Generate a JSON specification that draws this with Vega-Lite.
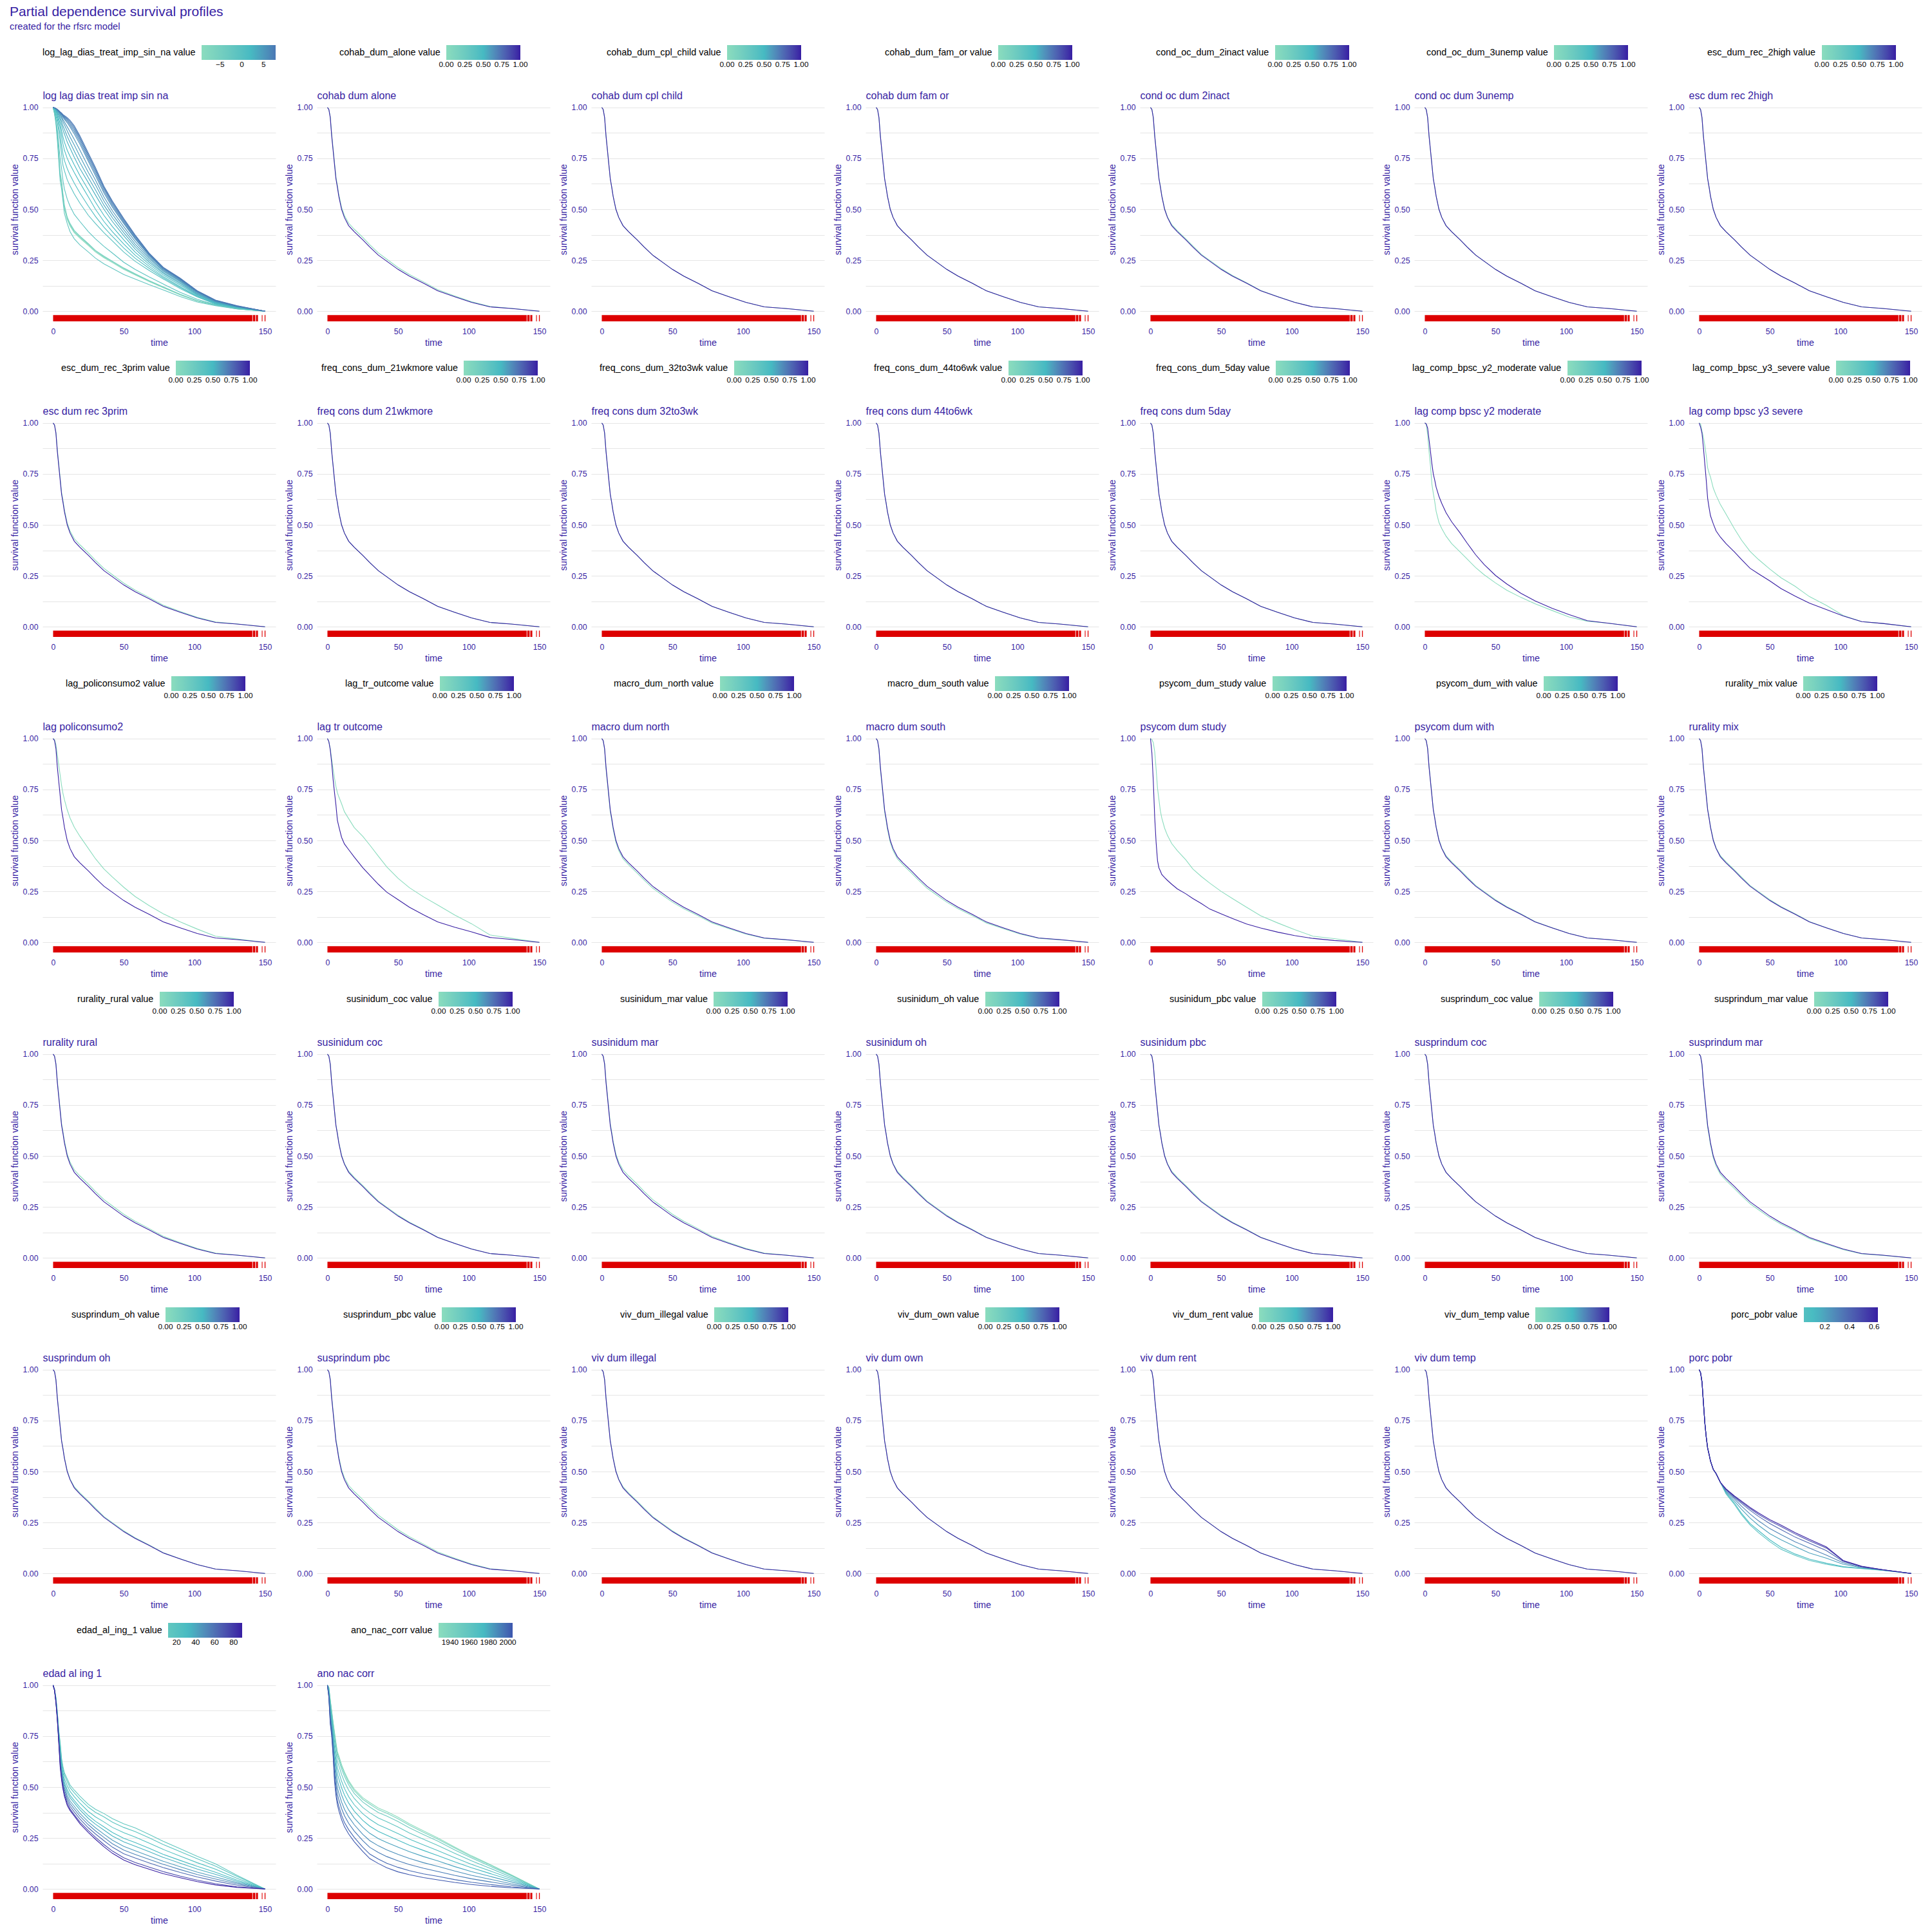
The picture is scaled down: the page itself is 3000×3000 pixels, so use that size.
{
"$schema":"https://vega.github.io/schema/vega-lite/v6.json",
"padding":{"left":15,"top":8,"right":5,"bottom":5},
"title":{"text":"Partial dependence survival profiles","subtitle":"created for the rfsrc model","anchor":"start","frame":"bounds","fontSize":21,"subtitleFontSize":14.7,"color":"#371ea3","subtitleColor":"#371ea3","fontWeight":"normal","font":"Liberation Sans","subtitleFont":"Liberation Sans","offset":21,"subtitlePadding":5},
"datasets":{
"rug":[{"a":0,"b":141},{"a":141.4,"b":143.1},{"a":143.6,"b":145},{"a":147.7,"b":148.2},{"a":149.7,"b":150.3}],
"c":[
{"p":"log_lag_dias_treat_imp_sin_na","v":-9.3,"t":[0,1,2,3,4,5,6,7,8,10,12,15,19,25,30,36,42,50,58,68,78,90,102,115,130,150],"s":[1,0.97,0.93,0.86,0.76,0.66,0.625,0.56,0.505,0.45,0.418,0.385,0.358,0.322,0.29,0.262,0.238,0.205,0.178,0.145,0.115,0.08,0.05,0.03,0.012,0]},
{"p":"log_lag_dias_treat_imp_sin_na","v":-7,"t":[0,1,2,3,4,5,6,7,8,10,12,15,19,25,30,36,42,50,58,68,78,90,102,115,130,150],"s":[1,0.972,0.935,0.865,0.765,0.668,0.632,0.566,0.512,0.456,0.424,0.39,0.363,0.327,0.295,0.266,0.242,0.209,0.181,0.148,0.117,0.082,0.051,0.03,0.012,0]},
{"p":"log_lag_dias_treat_imp_sin_na","v":-5,"t":[0,1,2,3,4,5,6,7,8,10,12,15,19,25,30,36,42,50,58,68,78,90,102,115,130,150],"s":[1,0.975,0.94,0.87,0.775,0.68,0.64,0.575,0.52,0.462,0.43,0.396,0.368,0.331,0.298,0.27,0.245,0.212,0.184,0.15,0.119,0.083,0.052,0.031,0.012,0]},
{"p":"log_lag_dias_treat_imp_sin_na","v":-2,"t":[0,1,2,3,4,5,6,7,8,10,12,15,19,25,30,36,42,50,58,68,78,90,102,115,130,150],"s":[1,0.97,0.92,0.84,0.74,0.64,0.6,0.54,0.48,0.43,0.39,0.355,0.325,0.29,0.26,0.232,0.21,0.18,0.158,0.13,0.104,0.072,0.045,0.027,0.011,0]},
{"p":"log_lag_dias_treat_imp_sin_na","v":-1,"t":[0,1,2,3,4,5,6,7,8,10,12,15,19,25,30,36,42,50,58,68,78,90,102,115,130,150],"s":[1,0.98,0.94,0.89,0.82,0.75,0.7,0.64,0.6,0.55,0.515,0.475,0.44,0.39,0.355,0.318,0.285,0.24,0.205,0.168,0.133,0.092,0.058,0.032,0.014,0]},
{"p":"log_lag_dias_treat_imp_sin_na","v":0,"t":[0,1,2,3,4,5,6,7,8,10,12,15,19,25,30,36,42,50,58,68,78,90,102,115,130,150],"s":[1,0.99,0.96,0.93,0.88,0.83,0.77,0.715,0.69,0.645,0.615,0.575,0.53,0.47,0.43,0.385,0.345,0.29,0.245,0.2,0.158,0.11,0.07,0.035,0.016,0]},
{"p":"log_lag_dias_treat_imp_sin_na","v":0.8,"t":[0,1,2,3,4,5,6,7,8,10,12,15,19,25,30,36,42,50,58,68,78,90,102,115,130,150],"s":[1,0.993,0.97,0.945,0.905,0.865,0.815,0.77,0.74,0.7,0.668,0.628,0.58,0.515,0.465,0.412,0.367,0.31,0.26,0.21,0.164,0.115,0.072,0.036,0.017,0]},
{"p":"log_lag_dias_treat_imp_sin_na","v":1.5,"t":[0,1,2,3,4,5,6,7,8,10,12,15,19,25,30,36,42,50,58,68,78,90,102,115,130,150],"s":[1,0.995,0.98,0.96,0.93,0.9,0.86,0.82,0.79,0.75,0.72,0.68,0.63,0.56,0.5,0.44,0.39,0.33,0.275,0.22,0.17,0.12,0.075,0.038,0.018,0]},
{"p":"log_lag_dias_treat_imp_sin_na","v":2.2,"t":[0,1,2,3,4,5,6,7,8,10,12,15,19,25,30,36,42,50,58,68,78,90,102,115,130,150],"s":[1,0.996,0.985,0.968,0.945,0.92,0.888,0.855,0.83,0.79,0.76,0.718,0.665,0.595,0.535,0.47,0.415,0.35,0.29,0.23,0.178,0.128,0.079,0.04,0.019,0]},
{"p":"log_lag_dias_treat_imp_sin_na","v":3,"t":[0,1,2,3,4,5,6,7,8,10,12,15,19,25,30,36,42,50,58,68,78,90,102,115,130,150],"s":[1,0.997,0.99,0.975,0.96,0.94,0.915,0.89,0.87,0.83,0.8,0.755,0.7,0.63,0.57,0.5,0.44,0.37,0.305,0.24,0.185,0.135,0.082,0.042,0.02,0]},
{"p":"log_lag_dias_treat_imp_sin_na","v":3.7,"t":[0,1,2,3,4,5,6,7,8,10,12,15,19,25,30,36,42,50,58,68,78,90,102,115,130,150],"s":[1,0.997,0.991,0.98,0.968,0.951,0.932,0.91,0.893,0.858,0.828,0.785,0.73,0.655,0.595,0.52,0.458,0.385,0.318,0.249,0.19,0.14,0.085,0.044,0.021,0]},
{"p":"log_lag_dias_treat_imp_sin_na","v":4.5,"t":[0,1,2,3,4,5,6,7,8,10,12,15,19,25,30,36,42,50,58,68,78,90,102,115,130,150],"s":[1,0.998,0.993,0.985,0.975,0.962,0.948,0.93,0.915,0.885,0.855,0.815,0.76,0.68,0.62,0.54,0.475,0.4,0.33,0.258,0.196,0.145,0.088,0.046,0.022,0]},
{"p":"log_lag_dias_treat_imp_sin_na","v":5.2,"t":[0,1,2,3,4,5,6,7,8,10,12,15,19,25,30,36,42,50,58,68,78,90,102,115,130,150],"s":[1,0.998,0.994,0.987,0.978,0.967,0.956,0.941,0.929,0.905,0.88,0.843,0.79,0.708,0.643,0.56,0.492,0.415,0.343,0.265,0.2,0.149,0.091,0.048,0.023,0]},
{"p":"log_lag_dias_treat_imp_sin_na","v":6,"t":[0,1,2,3,4,5,6,7,8,10,12,15,19,25,30,36,42,50,58,68,78,90,102,115,130,150],"s":[1,0.998,0.995,0.988,0.98,0.972,0.963,0.952,0.942,0.925,0.905,0.87,0.82,0.735,0.665,0.58,0.51,0.43,0.355,0.272,0.205,0.153,0.094,0.05,0.024,0]},
{"p":"log_lag_dias_treat_imp_sin_na","v":6.5,"t":[0,1,2,3,4,5,6,7,8,10,12,15,19,25,30,36,42,50,58,68,78,90,102,115,130,150],"s":[1,0.998,0.995,0.989,0.982,0.974,0.966,0.956,0.947,0.933,0.914,0.882,0.832,0.746,0.677,0.59,0.519,0.437,0.36,0.276,0.208,0.155,0.095,0.051,0.024,0]},
{"p":"log_lag_dias_treat_imp_sin_na","v":7,"t":[0,1,2,3,4,5,6,7,8,10,12,15,19,25,30,36,42,50,58,68,78,90,102,115,130,150],"s":[1,0.998,0.995,0.99,0.983,0.976,0.968,0.96,0.952,0.94,0.922,0.893,0.843,0.757,0.688,0.6,0.527,0.444,0.366,0.28,0.211,0.158,0.097,0.052,0.025,0]},
{"p":"log_lag_dias_treat_imp_sin_na","v":7.4,"t":[0,1,2,3,4,5,6,7,8,10,12,15,19,25,30,36,42,50,58,68,78,90,102,115,130,150],"s":[1,0.998,0.995,0.99,0.984,0.977,0.97,0.962,0.956,0.945,0.93,0.902,0.852,0.766,0.697,0.607,0.534,0.45,0.371,0.283,0.213,0.16,0.099,0.053,0.026,0]},
{"p":"log_lag_dias_treat_imp_sin_na","v":7.8,"t":[0,1,2,3,4,5,6,7,8,10,12,15,19,25,30,36,42,50,58,68,78,90,102,115,130,150],"s":[1,0.998,0.995,0.99,0.985,0.978,0.973,0.965,0.96,0.95,0.937,0.91,0.86,0.775,0.705,0.613,0.54,0.455,0.375,0.285,0.215,0.162,0.1,0.054,0.027,0]},
{"p":"cohab_dum_alone","v":0,"t":[0,1,2,3,4,5,6,7,8,10,12,15,19,25,30,36,42,50,58,68,78,90,102,115,130,150],"s":[1,0.99,0.955,0.87,0.8,0.73,0.66,0.62,0.575,0.51,0.47,0.432,0.402,0.362,0.326,0.286,0.255,0.214,0.18,0.144,0.106,0.075,0.046,0.023,0.014,0]},
{"p":"cohab_dum_alone","v":1,"t":[0,1,2,3,4,5,6,7,8,10,12,15,19,25,30,36,42,50,58,68,78,90,102,115,130,150],"s":[1,0.99,0.95,0.86,0.79,0.72,0.65,0.61,0.565,0.5,0.46,0.42,0.39,0.35,0.315,0.275,0.245,0.205,0.172,0.137,0.1,0.071,0.043,0.021,0.013,0]},
{"p":"cohab_dum_cpl_child","v":0,"t":[0,1,2,3,4,5,6,7,8,10,12,15,19,25,30,36,42,50,58,68,78,90,102,115,130,150],"s":[1,0.99,0.95,0.86,0.79,0.72,0.65,0.61,0.565,0.5,0.46,0.42,0.39,0.35,0.315,0.275,0.245,0.205,0.172,0.137,0.1,0.071,0.043,0.021,0.013,0]},
{"p":"cohab_dum_cpl_child","v":1,"t":[0,1,2,3,4,5,6,7,8,10,12,15,19,25,30,36,42,50,58,68,78,90,102,115,130,150],"s":[1,0.99,0.95,0.86,0.79,0.72,0.65,0.61,0.565,0.5,0.46,0.42,0.39,0.35,0.315,0.275,0.245,0.205,0.172,0.137,0.1,0.071,0.043,0.021,0.013,0]},
{"p":"cohab_dum_fam_or","v":0,"t":[0,1,2,3,4,5,6,7,8,10,12,15,19,25,30,36,42,50,58,68,78,90,102,115,130,150],"s":[1,0.99,0.95,0.86,0.79,0.72,0.65,0.61,0.565,0.5,0.46,0.42,0.39,0.35,0.315,0.275,0.245,0.205,0.172,0.137,0.1,0.071,0.043,0.021,0.013,0]},
{"p":"cohab_dum_fam_or","v":1,"t":[0,1,2,3,4,5,6,7,8,10,12,15,19,25,30,36,42,50,58,68,78,90,102,115,130,150],"s":[1,0.99,0.95,0.86,0.79,0.72,0.65,0.61,0.565,0.5,0.46,0.42,0.39,0.35,0.315,0.275,0.245,0.205,0.172,0.137,0.1,0.071,0.043,0.021,0.013,0]},
{"p":"cond_oc_dum_2inact","v":0,"t":[0,1,2,3,4,5,6,7,8,10,12,15,19,25,30,36,42,50,58,68,78,90,102,115,130,150],"s":[1,0.99,0.952,0.864,0.794,0.724,0.654,0.614,0.569,0.504,0.464,0.425,0.395,0.355,0.32,0.279,0.249,0.209,0.175,0.14,0.102,0.072,0.044,0.021,0.013,0]},
{"p":"cond_oc_dum_2inact","v":1,"t":[0,1,2,3,4,5,6,7,8,10,12,15,19,25,30,36,42,50,58,68,78,90,102,115,130,150],"s":[1,0.99,0.95,0.86,0.79,0.72,0.65,0.61,0.565,0.5,0.46,0.42,0.39,0.35,0.315,0.275,0.245,0.205,0.172,0.137,0.1,0.071,0.043,0.021,0.013,0]},
{"p":"cond_oc_dum_3unemp","v":0,"t":[0,1,2,3,4,5,6,7,8,10,12,15,19,25,30,36,42,50,58,68,78,90,102,115,130,150],"s":[1,0.99,0.95,0.86,0.79,0.72,0.65,0.61,0.565,0.5,0.46,0.42,0.39,0.35,0.315,0.275,0.245,0.205,0.172,0.137,0.1,0.071,0.043,0.021,0.013,0]},
{"p":"cond_oc_dum_3unemp","v":1,"t":[0,1,2,3,4,5,6,7,8,10,12,15,19,25,30,36,42,50,58,68,78,90,102,115,130,150],"s":[1,0.99,0.95,0.86,0.79,0.72,0.65,0.61,0.565,0.5,0.46,0.42,0.39,0.35,0.315,0.275,0.245,0.205,0.172,0.137,0.1,0.071,0.043,0.021,0.013,0]},
{"p":"esc_dum_rec_2high","v":0,"t":[0,1,2,3,4,5,6,7,8,10,12,15,19,25,30,36,42,50,58,68,78,90,102,115,130,150],"s":[1,0.99,0.95,0.86,0.79,0.72,0.65,0.61,0.565,0.5,0.46,0.42,0.39,0.35,0.315,0.275,0.245,0.205,0.172,0.137,0.1,0.071,0.043,0.021,0.013,0]},
{"p":"esc_dum_rec_2high","v":1,"t":[0,1,2,3,4,5,6,7,8,10,12,15,19,25,30,36,42,50,58,68,78,90,102,115,130,150],"s":[1,0.99,0.95,0.86,0.79,0.72,0.65,0.61,0.565,0.5,0.46,0.42,0.39,0.35,0.315,0.275,0.245,0.205,0.172,0.137,0.1,0.071,0.043,0.021,0.013,0]},
{"p":"esc_dum_rec_3prim","v":0,"t":[0,1,2,3,4,5,6,7,8,10,12,15,19,25,30,36,42,50,58,68,78,90,102,115,130,150],"s":[1,0.99,0.955,0.87,0.8,0.73,0.66,0.62,0.575,0.51,0.47,0.432,0.402,0.362,0.326,0.286,0.255,0.214,0.18,0.144,0.106,0.075,0.046,0.023,0.014,0]},
{"p":"esc_dum_rec_3prim","v":1,"t":[0,1,2,3,4,5,6,7,8,10,12,15,19,25,30,36,42,50,58,68,78,90,102,115,130,150],"s":[1,0.99,0.95,0.86,0.79,0.72,0.65,0.61,0.565,0.5,0.46,0.42,0.39,0.35,0.315,0.275,0.245,0.205,0.172,0.137,0.1,0.071,0.043,0.021,0.013,0]},
{"p":"freq_cons_dum_21wkmore","v":0,"t":[0,1,2,3,4,5,6,7,8,10,12,15,19,25,30,36,42,50,58,68,78,90,102,115,130,150],"s":[1,0.99,0.95,0.86,0.79,0.72,0.65,0.61,0.565,0.5,0.46,0.42,0.39,0.35,0.315,0.275,0.245,0.205,0.172,0.137,0.1,0.071,0.043,0.021,0.013,0]},
{"p":"freq_cons_dum_21wkmore","v":1,"t":[0,1,2,3,4,5,6,7,8,10,12,15,19,25,30,36,42,50,58,68,78,90,102,115,130,150],"s":[1,0.99,0.95,0.86,0.79,0.72,0.65,0.61,0.565,0.5,0.46,0.42,0.39,0.35,0.315,0.275,0.245,0.205,0.172,0.137,0.1,0.071,0.043,0.021,0.013,0]},
{"p":"freq_cons_dum_32to3wk","v":0,"t":[0,1,2,3,4,5,6,7,8,10,12,15,19,25,30,36,42,50,58,68,78,90,102,115,130,150],"s":[1,0.99,0.95,0.86,0.79,0.72,0.65,0.61,0.565,0.5,0.46,0.42,0.39,0.35,0.315,0.275,0.245,0.205,0.172,0.137,0.1,0.071,0.043,0.021,0.013,0]},
{"p":"freq_cons_dum_32to3wk","v":1,"t":[0,1,2,3,4,5,6,7,8,10,12,15,19,25,30,36,42,50,58,68,78,90,102,115,130,150],"s":[1,0.99,0.95,0.86,0.79,0.72,0.65,0.61,0.565,0.5,0.46,0.42,0.39,0.35,0.315,0.275,0.245,0.205,0.172,0.137,0.1,0.071,0.043,0.021,0.013,0]},
{"p":"freq_cons_dum_44to6wk","v":0,"t":[0,1,2,3,4,5,6,7,8,10,12,15,19,25,30,36,42,50,58,68,78,90,102,115,130,150],"s":[1,0.99,0.95,0.86,0.79,0.72,0.65,0.61,0.565,0.5,0.46,0.42,0.39,0.35,0.315,0.275,0.245,0.205,0.172,0.137,0.1,0.071,0.043,0.021,0.013,0]},
{"p":"freq_cons_dum_44to6wk","v":1,"t":[0,1,2,3,4,5,6,7,8,10,12,15,19,25,30,36,42,50,58,68,78,90,102,115,130,150],"s":[1,0.99,0.95,0.86,0.79,0.72,0.65,0.61,0.565,0.5,0.46,0.42,0.39,0.35,0.315,0.275,0.245,0.205,0.172,0.137,0.1,0.071,0.043,0.021,0.013,0]},
{"p":"freq_cons_dum_5day","v":0,"t":[0,1,2,3,4,5,6,7,8,10,12,15,19,25,30,36,42,50,58,68,78,90,102,115,130,150],"s":[1,0.99,0.95,0.86,0.79,0.72,0.65,0.61,0.565,0.5,0.46,0.42,0.39,0.35,0.315,0.275,0.245,0.205,0.172,0.137,0.1,0.071,0.043,0.021,0.013,0]},
{"p":"freq_cons_dum_5day","v":1,"t":[0,1,2,3,4,5,6,7,8,10,12,15,19,25,30,36,42,50,58,68,78,90,102,115,130,150],"s":[1,0.99,0.95,0.86,0.79,0.72,0.65,0.61,0.565,0.5,0.46,0.42,0.39,0.35,0.315,0.275,0.245,0.205,0.172,0.137,0.1,0.071,0.043,0.021,0.013,0]},
{"p":"lag_comp_bpsc_y2_moderate","v":0,"t":[0,1,2,3,4,5,6,7,8,10,12,15,19,25,30,36,42,50,58,68,78,90,102,115,130,150],"s":[1,0.995,0.94,0.86,0.79,0.7,0.655,0.615,0.567,0.512,0.482,0.445,0.408,0.367,0.332,0.29,0.255,0.215,0.179,0.144,0.113,0.08,0.048,0.027,0.017,0]},
{"p":"lag_comp_bpsc_y2_moderate","v":1,"t":[0,1,2,3,4,5,6,7,8,10,12,15,19,25,30,36,42,50,58,68,78,90,102,115,130,150],"s":[1,0.995,0.975,0.918,0.86,0.8,0.75,0.72,0.685,0.64,0.605,0.56,0.515,0.46,0.41,0.353,0.305,0.252,0.21,0.164,0.127,0.091,0.06,0.03,0.017,0]},
{"p":"lag_comp_bpsc_y3_severe","v":0,"t":[0,1,2,3,4,5,6,7,8,10,12,15,19,25,30,36,42,50,58,68,78,90,102,115,130,150],"s":[1,0.995,0.96,0.93,0.89,0.84,0.78,0.755,0.735,0.68,0.645,0.6,0.553,0.48,0.425,0.37,0.33,0.283,0.24,0.198,0.148,0.105,0.055,0.025,0.016,0]},
{"p":"lag_comp_bpsc_y3_severe","v":1,"t":[0,1,2,3,4,5,6,7,8,10,12,15,19,25,30,36,42,50,58,68,78,90,102,115,130,150],"s":[1,0.98,0.95,0.88,0.8,0.72,0.63,0.585,0.545,0.505,0.47,0.44,0.408,0.367,0.33,0.287,0.26,0.225,0.187,0.15,0.116,0.084,0.053,0.025,0.016,0]},
{"p":"lag_policonsumo2","v":0,"t":[0,1,2,3,4,5,6,7,8,10,12,15,19,25,30,36,42,50,58,68,78,90,102,115,130,150],"s":[1,0.995,0.97,0.92,0.87,0.82,0.77,0.73,0.7,0.65,0.61,0.565,0.52,0.46,0.41,0.36,0.32,0.27,0.225,0.18,0.14,0.1,0.065,0.03,0.016,0]},
{"p":"lag_policonsumo2","v":1,"t":[0,1,2,3,4,5,6,7,8,10,12,15,19,25,30,36,42,50,58,68,78,90,102,115,130,150],"s":[1,0.99,0.95,0.86,0.79,0.72,0.65,0.61,0.565,0.5,0.46,0.42,0.39,0.35,0.315,0.275,0.245,0.205,0.172,0.137,0.1,0.071,0.043,0.021,0.013,0]},
{"p":"lag_tr_outcome","v":0,"t":[0,1,2,3,4,5,6,7,8,10,12,15,19,25,30,36,42,50,58,68,78,90,102,115,130,150],"s":[1,0.985,0.95,0.9,0.85,0.805,0.765,0.735,0.715,0.68,0.641,0.607,0.563,0.52,0.477,0.423,0.37,0.314,0.268,0.223,0.183,0.134,0.091,0.036,0.02,0]},
{"p":"lag_tr_outcome","v":1,"t":[0,1,2,3,4,5,6,7,8,10,12,15,19,25,30,36,42,50,58,68,78,90,102,115,130,150],"s":[1,0.985,0.945,0.88,0.8,0.735,0.675,0.6,0.57,0.515,0.483,0.455,0.418,0.366,0.329,0.285,0.246,0.209,0.172,0.135,0.1,0.074,0.051,0.024,0.014,0]},
{"p":"macro_dum_north","v":0,"t":[0,1,2,3,4,5,6,7,8,10,12,15,19,25,30,36,42,50,58,68,78,90,102,115,130,150],"s":[1,0.99,0.945,0.85,0.78,0.71,0.64,0.6,0.555,0.49,0.45,0.41,0.38,0.34,0.305,0.266,0.236,0.197,0.165,0.131,0.095,0.067,0.04,0.02,0.012,0]},
{"p":"macro_dum_north","v":1,"t":[0,1,2,3,4,5,6,7,8,10,12,15,19,25,30,36,42,50,58,68,78,90,102,115,130,150],"s":[1,0.99,0.95,0.86,0.79,0.72,0.65,0.61,0.565,0.5,0.46,0.42,0.39,0.35,0.315,0.275,0.245,0.205,0.172,0.137,0.1,0.071,0.043,0.021,0.013,0]},
{"p":"macro_dum_south","v":0,"t":[0,1,2,3,4,5,6,7,8,10,12,15,19,25,30,36,42,50,58,68,78,90,102,115,130,150],"s":[1,0.99,0.945,0.85,0.78,0.71,0.64,0.6,0.555,0.49,0.45,0.41,0.38,0.34,0.305,0.266,0.236,0.197,0.165,0.131,0.095,0.067,0.04,0.02,0.012,0]},
{"p":"macro_dum_south","v":1,"t":[0,1,2,3,4,5,6,7,8,10,12,15,19,25,30,36,42,50,58,68,78,90,102,115,130,150],"s":[1,0.99,0.95,0.86,0.79,0.72,0.65,0.61,0.565,0.5,0.46,0.42,0.39,0.35,0.315,0.275,0.245,0.205,0.172,0.137,0.1,0.071,0.043,0.021,0.013,0]},
{"p":"psycom_dum_study","v":0,"t":[0,1,2,3,4,5,6,7,8,10,12,15,19,25,30,36,42,50,58,68,78,90,102,115,130,150],"s":[1,0.995,0.98,0.935,0.85,0.755,0.7,0.645,0.61,0.56,0.525,0.485,0.45,0.405,0.36,0.323,0.29,0.25,0.215,0.172,0.13,0.095,0.062,0.03,0.018,0]},
{"p":"psycom_dum_study","v":1,"t":[0,1,2,3,4,5,6,7,8,10,12,15,19,25,30,36,42,50,58,68,78,90,102,115,130,150],"s":[1,0.93,0.79,0.612,0.489,0.4,0.365,0.35,0.333,0.318,0.304,0.285,0.262,0.238,0.215,0.19,0.163,0.14,0.117,0.09,0.07,0.05,0.033,0.019,0.009,0]},
{"p":"psycom_dum_with","v":0,"t":[0,1,2,3,4,5,6,7,8,10,12,15,19,25,30,36,42,50,58,68,78,90,102,115,130,150],"s":[1,0.99,0.952,0.864,0.794,0.724,0.654,0.614,0.569,0.504,0.464,0.425,0.395,0.355,0.32,0.279,0.249,0.209,0.175,0.14,0.102,0.072,0.044,0.021,0.013,0]},
{"p":"psycom_dum_with","v":1,"t":[0,1,2,3,4,5,6,7,8,10,12,15,19,25,30,36,42,50,58,68,78,90,102,115,130,150],"s":[1,0.99,0.95,0.86,0.79,0.72,0.65,0.61,0.565,0.5,0.46,0.42,0.39,0.35,0.315,0.275,0.245,0.205,0.172,0.137,0.1,0.071,0.043,0.021,0.013,0]},
{"p":"rurality_mix","v":0,"t":[0,1,2,3,4,5,6,7,8,10,12,15,19,25,30,36,42,50,58,68,78,90,102,115,130,150],"s":[1,0.99,0.952,0.864,0.794,0.724,0.654,0.614,0.569,0.504,0.464,0.425,0.395,0.355,0.32,0.279,0.249,0.209,0.175,0.14,0.102,0.072,0.044,0.021,0.013,0]},
{"p":"rurality_mix","v":1,"t":[0,1,2,3,4,5,6,7,8,10,12,15,19,25,30,36,42,50,58,68,78,90,102,115,130,150],"s":[1,0.99,0.95,0.86,0.79,0.72,0.65,0.61,0.565,0.5,0.46,0.42,0.39,0.35,0.315,0.275,0.245,0.205,0.172,0.137,0.1,0.071,0.043,0.021,0.013,0]},
{"p":"rurality_rural","v":0,"t":[0,1,2,3,4,5,6,7,8,10,12,15,19,25,30,36,42,50,58,68,78,90,102,115,130,150],"s":[1,0.99,0.955,0.87,0.8,0.73,0.66,0.62,0.575,0.51,0.47,0.432,0.402,0.362,0.326,0.286,0.255,0.214,0.18,0.144,0.106,0.075,0.046,0.023,0.014,0]},
{"p":"rurality_rural","v":1,"t":[0,1,2,3,4,5,6,7,8,10,12,15,19,25,30,36,42,50,58,68,78,90,102,115,130,150],"s":[1,0.99,0.95,0.86,0.79,0.72,0.65,0.61,0.565,0.5,0.46,0.42,0.39,0.35,0.315,0.275,0.245,0.205,0.172,0.137,0.1,0.071,0.043,0.021,0.013,0]},
{"p":"susinidum_coc","v":0,"t":[0,1,2,3,4,5,6,7,8,10,12,15,19,25,30,36,42,50,58,68,78,90,102,115,130,150],"s":[1,0.99,0.952,0.864,0.794,0.724,0.654,0.614,0.569,0.504,0.464,0.425,0.395,0.355,0.32,0.279,0.249,0.209,0.175,0.14,0.102,0.072,0.044,0.021,0.013,0]},
{"p":"susinidum_coc","v":1,"t":[0,1,2,3,4,5,6,7,8,10,12,15,19,25,30,36,42,50,58,68,78,90,102,115,130,150],"s":[1,0.99,0.95,0.86,0.79,0.72,0.65,0.61,0.565,0.5,0.46,0.42,0.39,0.35,0.315,0.275,0.245,0.205,0.172,0.137,0.1,0.071,0.043,0.021,0.013,0]},
{"p":"susinidum_mar","v":0,"t":[0,1,2,3,4,5,6,7,8,10,12,15,19,25,30,36,42,50,58,68,78,90,102,115,130,150],"s":[1,0.99,0.955,0.87,0.8,0.73,0.66,0.62,0.575,0.51,0.47,0.432,0.402,0.362,0.326,0.286,0.255,0.214,0.18,0.144,0.106,0.075,0.046,0.023,0.014,0]},
{"p":"susinidum_mar","v":1,"t":[0,1,2,3,4,5,6,7,8,10,12,15,19,25,30,36,42,50,58,68,78,90,102,115,130,150],"s":[1,0.99,0.95,0.86,0.79,0.72,0.65,0.61,0.565,0.5,0.46,0.42,0.39,0.35,0.315,0.275,0.245,0.205,0.172,0.137,0.1,0.071,0.043,0.021,0.013,0]},
{"p":"susinidum_oh","v":0,"t":[0,1,2,3,4,5,6,7,8,10,12,15,19,25,30,36,42,50,58,68,78,90,102,115,130,150],"s":[1,0.99,0.952,0.864,0.794,0.724,0.654,0.614,0.569,0.504,0.464,0.425,0.395,0.355,0.32,0.279,0.249,0.209,0.175,0.14,0.102,0.072,0.044,0.021,0.013,0]},
{"p":"susinidum_oh","v":1,"t":[0,1,2,3,4,5,6,7,8,10,12,15,19,25,30,36,42,50,58,68,78,90,102,115,130,150],"s":[1,0.99,0.95,0.86,0.79,0.72,0.65,0.61,0.565,0.5,0.46,0.42,0.39,0.35,0.315,0.275,0.245,0.205,0.172,0.137,0.1,0.071,0.043,0.021,0.013,0]},
{"p":"susinidum_pbc","v":0,"t":[0,1,2,3,4,5,6,7,8,10,12,15,19,25,30,36,42,50,58,68,78,90,102,115,130,150],"s":[1,0.99,0.952,0.864,0.794,0.724,0.654,0.614,0.569,0.504,0.464,0.425,0.395,0.355,0.32,0.279,0.249,0.209,0.175,0.14,0.102,0.072,0.044,0.021,0.013,0]},
{"p":"susinidum_pbc","v":1,"t":[0,1,2,3,4,5,6,7,8,10,12,15,19,25,30,36,42,50,58,68,78,90,102,115,130,150],"s":[1,0.99,0.95,0.86,0.79,0.72,0.65,0.61,0.565,0.5,0.46,0.42,0.39,0.35,0.315,0.275,0.245,0.205,0.172,0.137,0.1,0.071,0.043,0.021,0.013,0]},
{"p":"susprindum_coc","v":0,"t":[0,1,2,3,4,5,6,7,8,10,12,15,19,25,30,36,42,50,58,68,78,90,102,115,130,150],"s":[1,0.99,0.95,0.86,0.79,0.72,0.65,0.61,0.565,0.5,0.46,0.42,0.39,0.35,0.315,0.275,0.245,0.205,0.172,0.137,0.1,0.071,0.043,0.021,0.013,0]},
{"p":"susprindum_coc","v":1,"t":[0,1,2,3,4,5,6,7,8,10,12,15,19,25,30,36,42,50,58,68,78,90,102,115,130,150],"s":[1,0.99,0.95,0.86,0.79,0.72,0.65,0.61,0.565,0.5,0.46,0.42,0.39,0.35,0.315,0.275,0.245,0.205,0.172,0.137,0.1,0.071,0.043,0.021,0.013,0]},
{"p":"susprindum_mar","v":0,"t":[0,1,2,3,4,5,6,7,8,10,12,15,19,25,30,36,42,50,58,68,78,90,102,115,130,150],"s":[1,0.99,0.945,0.85,0.78,0.71,0.64,0.6,0.555,0.49,0.45,0.41,0.38,0.34,0.305,0.266,0.236,0.197,0.165,0.131,0.095,0.067,0.04,0.02,0.012,0]},
{"p":"susprindum_mar","v":1,"t":[0,1,2,3,4,5,6,7,8,10,12,15,19,25,30,36,42,50,58,68,78,90,102,115,130,150],"s":[1,0.99,0.95,0.86,0.79,0.72,0.65,0.61,0.565,0.5,0.46,0.42,0.39,0.35,0.315,0.275,0.245,0.205,0.172,0.137,0.1,0.071,0.043,0.021,0.013,0]},
{"p":"susprindum_oh","v":0,"t":[0,1,2,3,4,5,6,7,8,10,12,15,19,25,30,36,42,50,58,68,78,90,102,115,130,150],"s":[1,0.99,0.952,0.864,0.794,0.724,0.654,0.614,0.569,0.504,0.464,0.425,0.395,0.355,0.32,0.279,0.249,0.209,0.175,0.14,0.102,0.072,0.044,0.021,0.013,0]},
{"p":"susprindum_oh","v":1,"t":[0,1,2,3,4,5,6,7,8,10,12,15,19,25,30,36,42,50,58,68,78,90,102,115,130,150],"s":[1,0.99,0.95,0.86,0.79,0.72,0.65,0.61,0.565,0.5,0.46,0.42,0.39,0.35,0.315,0.275,0.245,0.205,0.172,0.137,0.1,0.071,0.043,0.021,0.013,0]},
{"p":"susprindum_pbc","v":0,"t":[0,1,2,3,4,5,6,7,8,10,12,15,19,25,30,36,42,50,58,68,78,90,102,115,130,150],"s":[1,0.99,0.955,0.87,0.8,0.73,0.66,0.62,0.575,0.51,0.47,0.432,0.402,0.362,0.326,0.286,0.255,0.214,0.18,0.144,0.106,0.075,0.046,0.023,0.014,0]},
{"p":"susprindum_pbc","v":1,"t":[0,1,2,3,4,5,6,7,8,10,12,15,19,25,30,36,42,50,58,68,78,90,102,115,130,150],"s":[1,0.99,0.95,0.86,0.79,0.72,0.65,0.61,0.565,0.5,0.46,0.42,0.39,0.35,0.315,0.275,0.245,0.205,0.172,0.137,0.1,0.071,0.043,0.021,0.013,0]},
{"p":"viv_dum_illegal","v":0,"t":[0,1,2,3,4,5,6,7,8,10,12,15,19,25,30,36,42,50,58,68,78,90,102,115,130,150],"s":[1,0.99,0.952,0.864,0.794,0.724,0.654,0.614,0.569,0.504,0.464,0.425,0.395,0.355,0.32,0.279,0.249,0.209,0.175,0.14,0.102,0.072,0.044,0.021,0.013,0]},
{"p":"viv_dum_illegal","v":1,"t":[0,1,2,3,4,5,6,7,8,10,12,15,19,25,30,36,42,50,58,68,78,90,102,115,130,150],"s":[1,0.99,0.95,0.86,0.79,0.72,0.65,0.61,0.565,0.5,0.46,0.42,0.39,0.35,0.315,0.275,0.245,0.205,0.172,0.137,0.1,0.071,0.043,0.021,0.013,0]},
{"p":"viv_dum_own","v":0,"t":[0,1,2,3,4,5,6,7,8,10,12,15,19,25,30,36,42,50,58,68,78,90,102,115,130,150],"s":[1,0.99,0.95,0.86,0.79,0.72,0.65,0.61,0.565,0.5,0.46,0.42,0.39,0.35,0.315,0.275,0.245,0.205,0.172,0.137,0.1,0.071,0.043,0.021,0.013,0]},
{"p":"viv_dum_own","v":1,"t":[0,1,2,3,4,5,6,7,8,10,12,15,19,25,30,36,42,50,58,68,78,90,102,115,130,150],"s":[1,0.99,0.95,0.86,0.79,0.72,0.65,0.61,0.565,0.5,0.46,0.42,0.39,0.35,0.315,0.275,0.245,0.205,0.172,0.137,0.1,0.071,0.043,0.021,0.013,0]},
{"p":"viv_dum_rent","v":0,"t":[0,1,2,3,4,5,6,7,8,10,12,15,19,25,30,36,42,50,58,68,78,90,102,115,130,150],"s":[1,0.99,0.95,0.86,0.79,0.72,0.65,0.61,0.565,0.5,0.46,0.42,0.39,0.35,0.315,0.275,0.245,0.205,0.172,0.137,0.1,0.071,0.043,0.021,0.013,0]},
{"p":"viv_dum_rent","v":1,"t":[0,1,2,3,4,5,6,7,8,10,12,15,19,25,30,36,42,50,58,68,78,90,102,115,130,150],"s":[1,0.99,0.95,0.86,0.79,0.72,0.65,0.61,0.565,0.5,0.46,0.42,0.39,0.35,0.315,0.275,0.245,0.205,0.172,0.137,0.1,0.071,0.043,0.021,0.013,0]},
{"p":"viv_dum_temp","v":0,"t":[0,1,2,3,4,5,6,7,8,10,12,15,19,25,30,36,42,50,58,68,78,90,102,115,130,150],"s":[1,0.99,0.95,0.86,0.79,0.72,0.65,0.61,0.565,0.5,0.46,0.42,0.39,0.35,0.315,0.275,0.245,0.205,0.172,0.137,0.1,0.071,0.043,0.021,0.013,0]},
{"p":"viv_dum_temp","v":1,"t":[0,1,2,3,4,5,6,7,8,10,12,15,19,25,30,36,42,50,58,68,78,90,102,115,130,150],"s":[1,0.99,0.95,0.86,0.79,0.72,0.65,0.61,0.565,0.5,0.46,0.42,0.39,0.35,0.315,0.275,0.245,0.205,0.172,0.137,0.1,0.071,0.043,0.021,0.013,0]},
{"p":"porc_pobr","v":0.03,"t":[0,1,2,3,4,5,6,7,8,10,12,15,19,25,30,36,42,50,58,68,78,90,102,115,130,150],"s":[1,0.985,0.94,0.84,0.74,0.67,0.615,0.585,0.552,0.51,0.49,0.447,0.39,0.338,0.288,0.238,0.2,0.156,0.118,0.088,0.064,0.045,0.031,0.024,0.015,0]},
{"p":"porc_pobr","v":0.1,"t":[0,1,2,3,4,5,6,7,8,10,12,15,19,25,30,36,42,50,58,68,78,90,102,115,130,150],"s":[1,0.985,0.94,0.84,0.74,0.67,0.615,0.585,0.552,0.51,0.49,0.447,0.395,0.345,0.295,0.245,0.21,0.165,0.128,0.095,0.07,0.05,0.034,0.025,0.016,0]},
{"p":"porc_pobr","v":0.2,"t":[0,1,2,3,4,5,6,7,8,10,12,15,19,25,30,36,42,50,58,68,78,90,102,115,130,150],"s":[1,0.985,0.94,0.84,0.74,0.67,0.615,0.585,0.552,0.51,0.49,0.447,0.4,0.355,0.315,0.272,0.236,0.195,0.165,0.132,0.1,0.075,0.045,0.028,0.016,0]},
{"p":"porc_pobr","v":0.3,"t":[0,1,2,3,4,5,6,7,8,10,12,15,19,25,30,36,42,50,58,68,78,90,102,115,130,150],"s":[1,0.985,0.94,0.84,0.74,0.67,0.615,0.585,0.552,0.51,0.49,0.447,0.405,0.365,0.33,0.292,0.258,0.22,0.19,0.155,0.125,0.09,0.052,0.03,0.017,0]},
{"p":"porc_pobr","v":0.4,"t":[0,1,2,3,4,5,6,7,8,10,12,15,19,25,30,36,42,50,58,68,78,90,102,115,130,150],"s":[1,0.985,0.94,0.84,0.74,0.67,0.615,0.585,0.552,0.51,0.49,0.447,0.41,0.372,0.343,0.31,0.28,0.245,0.215,0.178,0.148,0.112,0.058,0.033,0.018,0]},
{"p":"porc_pobr","v":0.5,"t":[0,1,2,3,4,5,6,7,8,10,12,15,19,25,30,36,42,50,58,68,78,90,102,115,130,150],"s":[1,0.985,0.94,0.84,0.74,0.67,0.615,0.585,0.552,0.51,0.49,0.447,0.413,0.377,0.35,0.318,0.29,0.257,0.23,0.193,0.16,0.125,0.062,0.034,0.018,0]},
{"p":"porc_pobr","v":0.63,"t":[0,1,2,3,4,5,6,7,8,10,12,15,19,25,30,36,42,50,58,68,78,90,102,115,130,150],"s":[1,0.985,0.94,0.84,0.74,0.67,0.615,0.585,0.552,0.51,0.49,0.447,0.415,0.38,0.355,0.324,0.297,0.264,0.237,0.2,0.167,0.13,0.063,0.035,0.018,0]},
{"p":"edad_al_ing_1","v":11,"t":[0,1,2,3,4,5,6,7,8,10,12,15,19,25,30,36,42,50,58,68,78,90,102,115,130,150],"s":[1,0.98,0.94,0.87,0.78,0.72,0.64,0.6,0.57,0.54,0.51,0.485,0.455,0.415,0.391,0.37,0.345,0.32,0.3,0.268,0.234,0.197,0.16,0.123,0.068,0]},
{"p":"edad_al_ing_1","v":18,"t":[0,1,2,3,4,5,6,7,8,10,12,15,19,25,30,36,42,50,58,68,78,90,102,115,130,150],"s":[1,0.98,0.937,0.866,0.774,0.71,0.63,0.59,0.56,0.527,0.497,0.472,0.441,0.401,0.376,0.354,0.328,0.302,0.282,0.251,0.218,0.183,0.148,0.112,0.062,0]},
{"p":"edad_al_ing_1","v":24,"t":[0,1,2,3,4,5,6,7,8,10,12,15,19,25,30,36,42,50,58,68,78,90,102,115,130,150],"s":[1,0.979,0.934,0.86,0.765,0.69,0.614,0.572,0.541,0.507,0.479,0.453,0.421,0.38,0.354,0.329,0.302,0.276,0.255,0.225,0.194,0.161,0.129,0.097,0.053,0]},
{"p":"edad_al_ing_1","v":30,"t":[0,1,2,3,4,5,6,7,8,10,12,15,19,25,30,36,42,50,58,68,78,90,102,115,130,150],"s":[1,0.978,0.93,0.854,0.756,0.672,0.598,0.556,0.524,0.488,0.46,0.434,0.401,0.36,0.332,0.305,0.277,0.249,0.228,0.2,0.17,0.14,0.111,0.082,0.044,0]},
{"p":"edad_al_ing_1","v":36,"t":[0,1,2,3,4,5,6,7,8,10,12,15,19,25,30,36,42,50,58,68,78,90,102,115,130,150],"s":[1,0.978,0.928,0.85,0.75,0.66,0.588,0.545,0.513,0.475,0.448,0.422,0.388,0.346,0.318,0.289,0.26,0.231,0.21,0.183,0.155,0.126,0.098,0.072,0.038,0]},
{"p":"edad_al_ing_1","v":44,"t":[0,1,2,3,4,5,6,7,8,10,12,15,19,25,30,36,42,50,58,68,78,90,102,115,130,150],"s":[1,0.977,0.925,0.845,0.743,0.646,0.575,0.532,0.499,0.459,0.432,0.406,0.371,0.329,0.3,0.269,0.239,0.209,0.188,0.162,0.136,0.109,0.083,0.059,0.031,0]},
{"p":"edad_al_ing_1","v":52,"t":[0,1,2,3,4,5,6,7,8,10,12,15,19,25,30,36,42,50,58,68,78,90,102,115,130,150],"s":[1,0.977,0.922,0.841,0.737,0.634,0.565,0.521,0.488,0.446,0.419,0.392,0.357,0.315,0.285,0.253,0.222,0.191,0.17,0.145,0.121,0.095,0.071,0.049,0.025,0]},
{"p":"edad_al_ing_1","v":62,"t":[0,1,2,3,4,5,6,7,8,10,12,15,19,25,30,36,42,50,58,68,78,90,102,115,130,150],"s":[1,0.976,0.92,0.837,0.731,0.622,0.554,0.51,0.476,0.433,0.406,0.378,0.343,0.3,0.27,0.237,0.205,0.173,0.152,0.128,0.105,0.081,0.059,0.039,0.019,0]},
{"p":"edad_al_ing_1","v":75,"t":[0,1,2,3,4,5,6,7,8,10,12,15,19,25,30,36,42,50,58,68,78,90,102,115,130,150],"s":[1,0.975,0.917,0.833,0.725,0.61,0.543,0.498,0.464,0.42,0.393,0.365,0.329,0.286,0.254,0.218,0.186,0.153,0.13,0.107,0.085,0.063,0.043,0.026,0.011,0]},
{"p":"edad_al_ing_1","v":89,"t":[0,1,2,3,4,5,6,7,8,10,12,15,19,25,30,36,42,50,58,68,78,90,102,115,130,150],"s":[1,0.975,0.915,0.83,0.72,0.6,0.535,0.49,0.455,0.41,0.385,0.358,0.32,0.277,0.244,0.207,0.175,0.142,0.119,0.097,0.075,0.055,0.036,0.02,0.008,0]},
{"p":"ano_nac_corr","v":1928,"t":[0,1,2,3,4,5,6,7,8,10,12,15,19,25,30,36,42,50,58,68,78,90,102,115,130,150],"s":[1,0.99,0.93,0.875,0.82,0.77,0.72,0.675,0.655,0.61,0.575,0.532,0.49,0.448,0.424,0.397,0.38,0.352,0.32,0.285,0.251,0.206,0.163,0.121,0.07,0]},
{"p":"ano_nac_corr","v":1940,"t":[0,1,2,3,4,5,6,7,8,10,12,15,19,25,30,36,42,50,58,68,78,90,102,115,130,150],"s":[1,0.989,0.926,0.871,0.815,0.763,0.712,0.667,0.647,0.602,0.567,0.524,0.482,0.44,0.416,0.389,0.372,0.344,0.313,0.278,0.245,0.201,0.159,0.118,0.068,0]},
{"p":"ano_nac_corr","v":1950,"t":[0,1,2,3,4,5,6,7,8,10,12,15,19,25,30,36,42,50,58,68,78,90,102,115,130,150],"s":[1,0.986,0.92,0.865,0.807,0.751,0.699,0.654,0.633,0.588,0.554,0.511,0.469,0.427,0.402,0.375,0.358,0.331,0.3,0.267,0.235,0.192,0.152,0.112,0.065,0]},
{"p":"ano_nac_corr","v":1960,"t":[0,1,2,3,4,5,6,7,8,10,12,15,19,25,30,36,42,50,58,68,78,90,102,115,130,150],"s":[1,0.981,0.908,0.853,0.79,0.727,0.673,0.628,0.607,0.562,0.527,0.485,0.444,0.4,0.374,0.348,0.33,0.304,0.275,0.244,0.214,0.175,0.138,0.102,0.058,0]},
{"p":"ano_nac_corr","v":1968,"t":[0,1,2,3,4,5,6,7,8,10,12,15,19,25,30,36,42,50,58,68,78,90,102,115,130,150],"s":[1,0.975,0.894,0.838,0.77,0.698,0.642,0.597,0.574,0.529,0.494,0.453,0.413,0.369,0.342,0.315,0.297,0.272,0.245,0.216,0.189,0.154,0.121,0.089,0.051,0]},
{"p":"ano_nac_corr","v":1975,"t":[0,1,2,3,4,5,6,7,8,10,12,15,19,25,30,36,42,50,58,68,78,90,102,115,130,150],"s":[1,0.969,0.88,0.824,0.75,0.669,0.611,0.566,0.542,0.497,0.462,0.422,0.382,0.337,0.308,0.283,0.264,0.239,0.215,0.189,0.164,0.133,0.104,0.076,0.043,0]},
{"p":"ano_nac_corr","v":1982,"t":[0,1,2,3,4,5,6,7,8,10,12,15,19,25,30,36,42,50,58,68,78,90,102,115,130,150],"s":[1,0.963,0.864,0.808,0.729,0.638,0.577,0.532,0.507,0.462,0.427,0.388,0.348,0.303,0.273,0.247,0.228,0.205,0.183,0.159,0.138,0.11,0.085,0.062,0.035,0]},
{"p":"ano_nac_corr","v":1988,"t":[0,1,2,3,4,5,6,7,8,10,12,15,19,25,30,36,42,50,58,68,78,90,102,115,130,150],"s":[1,0.956,0.848,0.792,0.707,0.607,0.543,0.498,0.472,0.427,0.392,0.354,0.315,0.268,0.237,0.212,0.192,0.17,0.15,0.129,0.111,0.088,0.067,0.048,0.026,0]},
{"p":"ano_nac_corr","v":1994,"t":[0,1,2,3,4,5,6,7,8,10,12,15,19,25,30,36,42,50,58,68,78,90,102,115,130,150],"s":[1,0.95,0.834,0.777,0.687,0.578,0.512,0.467,0.44,0.395,0.36,0.322,0.284,0.237,0.204,0.179,0.159,0.138,0.12,0.102,0.086,0.067,0.05,0.035,0.019,0]},
{"p":"ano_nac_corr","v":2000,"t":[0,1,2,3,4,5,6,7,8,10,12,15,19,25,30,36,42,50,58,68,78,90,102,115,130,150],"s":[1,0.944,0.82,0.763,0.667,0.549,0.481,0.436,0.407,0.362,0.327,0.291,0.253,0.205,0.171,0.147,0.126,0.106,0.09,0.074,0.062,0.046,0.033,0.022,0.011,0]},
{"p":"ano_nac_corr","v":2005,"t":[0,1,2,3,4,5,6,7,8,10,12,15,19,25,30,36,42,50,58,68,78,90,102,115,130,150],"s":[1,0.94,0.81,0.753,0.654,0.53,0.46,0.415,0.386,0.341,0.306,0.27,0.232,0.184,0.149,0.125,0.104,0.084,0.07,0.056,0.045,0.032,0.022,0.013,0.006,0]}
]},
"data":{"name":"c"},
"transform":[{"flatten":["t","s"]}],
"columns":7,
"spacing":{"row":142,"column":64},
"bounds":"flush",
"resolve":{"scale":{"color":"independent"}},
"concat":[
{"transform":[{"filter":{"field":"p","equal":"log_lag_dias_treat_imp_sin_na"}}],"layer":[{"mark":"line","encoding":{"x":{"field":"t","type":"quantitative","scale":{"domain":[-7.5,157.5],"nice":false},"axis":{"values":[0,50,100,150],"title":"time"}},"y":{"field":"s","type":"quantitative","scale":{"domain":[-0.05,1.05],"nice":false},"axis":{"values":[0,0.125,0.25,0.375,0.5,0.625,0.75,0.875,1],"labelExpr":"datum.value*4%1==0?format(datum.value,'.2f'):''","title":"survival function value"}},"color":{"field":"v","type":"quantitative","title":"log_lag_dias_treat_imp_sin_na value","scale":{"domainMid":2.1,"range":["#8bdcbe","#46bac2","#4a78b5"],"interpolate":"lab"},"legend":{"values":[-5,0,5],"encode":{"labels":{"update":{"align":{"value":"center"}}}}}},"detail":{"field":"v","type":"nominal"}}},{"data":{"name":"rug"},"mark":"rect","encoding":{"x":{"field":"a","type":"quantitative","scale":{"domain":[-7.5,157.5],"nice":false},"axis":{"orient":"top","title":"log lag dias treat imp sin na","titleX":0,"titleY":2}},"x2":{"field":"b"},"y":{"datum":-0.05,"type":"quantitative","scale":{"domain":[-0.05,1.05],"nice":false}},"y2":{"datum":-0.019}}}],"resolve":{"axis":{"x":"independent"}}},
{"transform":[{"filter":{"field":"p","equal":"cohab_dum_alone"}}],"layer":[{"mark":"line","encoding":{"x":{"field":"t","type":"quantitative","scale":{"domain":[-7.5,157.5],"nice":false},"axis":{"values":[0,50,100,150],"title":"time"}},"y":{"field":"s","type":"quantitative","scale":{"domain":[-0.05,1.05],"nice":false},"axis":{"values":[0,0.125,0.25,0.375,0.5,0.625,0.75,0.875,1],"labelExpr":"datum.value*4%1==0?format(datum.value,'.2f'):''","title":"survival function value"}},"color":{"field":"v","type":"quantitative","title":"cohab_dum_alone value","scale":{"domainMid":0.5,"range":["#8bdcbe","#46bac2","#371ea3"],"interpolate":"lab"},"legend":{"values":[0,0.25,0.5,0.75,1],"format":".2f","encode":{"labels":{"update":{"align":{"value":"center"}}}}}},"detail":{"field":"v","type":"nominal"}}},{"data":{"name":"rug"},"mark":"rect","encoding":{"x":{"field":"a","type":"quantitative","scale":{"domain":[-7.5,157.5],"nice":false},"axis":{"orient":"top","title":"cohab dum alone","titleX":0,"titleY":2}},"x2":{"field":"b"},"y":{"datum":-0.05,"type":"quantitative","scale":{"domain":[-0.05,1.05],"nice":false}},"y2":{"datum":-0.019}}}],"resolve":{"axis":{"x":"independent"}}},
{"transform":[{"filter":{"field":"p","equal":"cohab_dum_cpl_child"}}],"layer":[{"mark":"line","encoding":{"x":{"field":"t","type":"quantitative","scale":{"domain":[-7.5,157.5],"nice":false},"axis":{"values":[0,50,100,150],"title":"time"}},"y":{"field":"s","type":"quantitative","scale":{"domain":[-0.05,1.05],"nice":false},"axis":{"values":[0,0.125,0.25,0.375,0.5,0.625,0.75,0.875,1],"labelExpr":"datum.value*4%1==0?format(datum.value,'.2f'):''","title":"survival function value"}},"color":{"field":"v","type":"quantitative","title":"cohab_dum_cpl_child value","scale":{"domainMid":0.5,"range":["#8bdcbe","#46bac2","#371ea3"],"interpolate":"lab"},"legend":{"values":[0,0.25,0.5,0.75,1],"format":".2f","encode":{"labels":{"update":{"align":{"value":"center"}}}}}},"detail":{"field":"v","type":"nominal"}}},{"data":{"name":"rug"},"mark":"rect","encoding":{"x":{"field":"a","type":"quantitative","scale":{"domain":[-7.5,157.5],"nice":false},"axis":{"orient":"top","title":"cohab dum cpl child","titleX":0,"titleY":2}},"x2":{"field":"b"},"y":{"datum":-0.05,"type":"quantitative","scale":{"domain":[-0.05,1.05],"nice":false}},"y2":{"datum":-0.019}}}],"resolve":{"axis":{"x":"independent"}}},
{"transform":[{"filter":{"field":"p","equal":"cohab_dum_fam_or"}}],"layer":[{"mark":"line","encoding":{"x":{"field":"t","type":"quantitative","scale":{"domain":[-7.5,157.5],"nice":false},"axis":{"values":[0,50,100,150],"title":"time"}},"y":{"field":"s","type":"quantitative","scale":{"domain":[-0.05,1.05],"nice":false},"axis":{"values":[0,0.125,0.25,0.375,0.5,0.625,0.75,0.875,1],"labelExpr":"datum.value*4%1==0?format(datum.value,'.2f'):''","title":"survival function value"}},"color":{"field":"v","type":"quantitative","title":"cohab_dum_fam_or value","scale":{"domainMid":0.5,"range":["#8bdcbe","#46bac2","#371ea3"],"interpolate":"lab"},"legend":{"values":[0,0.25,0.5,0.75,1],"format":".2f","encode":{"labels":{"update":{"align":{"value":"center"}}}}}},"detail":{"field":"v","type":"nominal"}}},{"data":{"name":"rug"},"mark":"rect","encoding":{"x":{"field":"a","type":"quantitative","scale":{"domain":[-7.5,157.5],"nice":false},"axis":{"orient":"top","title":"cohab dum fam or","titleX":0,"titleY":2}},"x2":{"field":"b"},"y":{"datum":-0.05,"type":"quantitative","scale":{"domain":[-0.05,1.05],"nice":false}},"y2":{"datum":-0.019}}}],"resolve":{"axis":{"x":"independent"}}},
{"transform":[{"filter":{"field":"p","equal":"cond_oc_dum_2inact"}}],"layer":[{"mark":"line","encoding":{"x":{"field":"t","type":"quantitative","scale":{"domain":[-7.5,157.5],"nice":false},"axis":{"values":[0,50,100,150],"title":"time"}},"y":{"field":"s","type":"quantitative","scale":{"domain":[-0.05,1.05],"nice":false},"axis":{"values":[0,0.125,0.25,0.375,0.5,0.625,0.75,0.875,1],"labelExpr":"datum.value*4%1==0?format(datum.value,'.2f'):''","title":"survival function value"}},"color":{"field":"v","type":"quantitative","title":"cond_oc_dum_2inact value","scale":{"domainMid":0.5,"range":["#8bdcbe","#46bac2","#371ea3"],"interpolate":"lab"},"legend":{"values":[0,0.25,0.5,0.75,1],"format":".2f","encode":{"labels":{"update":{"align":{"value":"center"}}}}}},"detail":{"field":"v","type":"nominal"}}},{"data":{"name":"rug"},"mark":"rect","encoding":{"x":{"field":"a","type":"quantitative","scale":{"domain":[-7.5,157.5],"nice":false},"axis":{"orient":"top","title":"cond oc dum 2inact","titleX":0,"titleY":2}},"x2":{"field":"b"},"y":{"datum":-0.05,"type":"quantitative","scale":{"domain":[-0.05,1.05],"nice":false}},"y2":{"datum":-0.019}}}],"resolve":{"axis":{"x":"independent"}}},
{"transform":[{"filter":{"field":"p","equal":"cond_oc_dum_3unemp"}}],"layer":[{"mark":"line","encoding":{"x":{"field":"t","type":"quantitative","scale":{"domain":[-7.5,157.5],"nice":false},"axis":{"values":[0,50,100,150],"title":"time"}},"y":{"field":"s","type":"quantitative","scale":{"domain":[-0.05,1.05],"nice":false},"axis":{"values":[0,0.125,0.25,0.375,0.5,0.625,0.75,0.875,1],"labelExpr":"datum.value*4%1==0?format(datum.value,'.2f'):''","title":"survival function value"}},"color":{"field":"v","type":"quantitative","title":"cond_oc_dum_3unemp value","scale":{"domainMid":0.5,"range":["#8bdcbe","#46bac2","#371ea3"],"interpolate":"lab"},"legend":{"values":[0,0.25,0.5,0.75,1],"format":".2f","encode":{"labels":{"update":{"align":{"value":"center"}}}}}},"detail":{"field":"v","type":"nominal"}}},{"data":{"name":"rug"},"mark":"rect","encoding":{"x":{"field":"a","type":"quantitative","scale":{"domain":[-7.5,157.5],"nice":false},"axis":{"orient":"top","title":"cond oc dum 3unemp","titleX":0,"titleY":2}},"x2":{"field":"b"},"y":{"datum":-0.05,"type":"quantitative","scale":{"domain":[-0.05,1.05],"nice":false}},"y2":{"datum":-0.019}}}],"resolve":{"axis":{"x":"independent"}}},
{"transform":[{"filter":{"field":"p","equal":"esc_dum_rec_2high"}}],"layer":[{"mark":"line","encoding":{"x":{"field":"t","type":"quantitative","scale":{"domain":[-7.5,157.5],"nice":false},"axis":{"values":[0,50,100,150],"title":"time"}},"y":{"field":"s","type":"quantitative","scale":{"domain":[-0.05,1.05],"nice":false},"axis":{"values":[0,0.125,0.25,0.375,0.5,0.625,0.75,0.875,1],"labelExpr":"datum.value*4%1==0?format(datum.value,'.2f'):''","title":"survival function value"}},"color":{"field":"v","type":"quantitative","title":"esc_dum_rec_2high value","scale":{"domainMid":0.5,"range":["#8bdcbe","#46bac2","#371ea3"],"interpolate":"lab"},"legend":{"values":[0,0.25,0.5,0.75,1],"format":".2f","encode":{"labels":{"update":{"align":{"value":"center"}}}}}},"detail":{"field":"v","type":"nominal"}}},{"data":{"name":"rug"},"mark":"rect","encoding":{"x":{"field":"a","type":"quantitative","scale":{"domain":[-7.5,157.5],"nice":false},"axis":{"orient":"top","title":"esc dum rec 2high","titleX":0,"titleY":2}},"x2":{"field":"b"},"y":{"datum":-0.05,"type":"quantitative","scale":{"domain":[-0.05,1.05],"nice":false}},"y2":{"datum":-0.019}}}],"resolve":{"axis":{"x":"independent"}}},
{"transform":[{"filter":{"field":"p","equal":"esc_dum_rec_3prim"}}],"layer":[{"mark":"line","encoding":{"x":{"field":"t","type":"quantitative","scale":{"domain":[-7.5,157.5],"nice":false},"axis":{"values":[0,50,100,150],"title":"time"}},"y":{"field":"s","type":"quantitative","scale":{"domain":[-0.05,1.05],"nice":false},"axis":{"values":[0,0.125,0.25,0.375,0.5,0.625,0.75,0.875,1],"labelExpr":"datum.value*4%1==0?format(datum.value,'.2f'):''","title":"survival function value"}},"color":{"field":"v","type":"quantitative","title":"esc_dum_rec_3prim value","scale":{"domainMid":0.5,"range":["#8bdcbe","#46bac2","#371ea3"],"interpolate":"lab"},"legend":{"values":[0,0.25,0.5,0.75,1],"format":".2f","encode":{"labels":{"update":{"align":{"value":"center"}}}}}},"detail":{"field":"v","type":"nominal"}}},{"data":{"name":"rug"},"mark":"rect","encoding":{"x":{"field":"a","type":"quantitative","scale":{"domain":[-7.5,157.5],"nice":false},"axis":{"orient":"top","title":"esc dum rec 3prim","titleX":0,"titleY":2}},"x2":{"field":"b"},"y":{"datum":-0.05,"type":"quantitative","scale":{"domain":[-0.05,1.05],"nice":false}},"y2":{"datum":-0.019}}}],"resolve":{"axis":{"x":"independent"}}},
{"transform":[{"filter":{"field":"p","equal":"freq_cons_dum_21wkmore"}}],"layer":[{"mark":"line","encoding":{"x":{"field":"t","type":"quantitative","scale":{"domain":[-7.5,157.5],"nice":false},"axis":{"values":[0,50,100,150],"title":"time"}},"y":{"field":"s","type":"quantitative","scale":{"domain":[-0.05,1.05],"nice":false},"axis":{"values":[0,0.125,0.25,0.375,0.5,0.625,0.75,0.875,1],"labelExpr":"datum.value*4%1==0?format(datum.value,'.2f'):''","title":"survival function value"}},"color":{"field":"v","type":"quantitative","title":"freq_cons_dum_21wkmore value","scale":{"domainMid":0.5,"range":["#8bdcbe","#46bac2","#371ea3"],"interpolate":"lab"},"legend":{"values":[0,0.25,0.5,0.75,1],"format":".2f","encode":{"labels":{"update":{"align":{"value":"center"}}}}}},"detail":{"field":"v","type":"nominal"}}},{"data":{"name":"rug"},"mark":"rect","encoding":{"x":{"field":"a","type":"quantitative","scale":{"domain":[-7.5,157.5],"nice":false},"axis":{"orient":"top","title":"freq cons dum 21wkmore","titleX":0,"titleY":2}},"x2":{"field":"b"},"y":{"datum":-0.05,"type":"quantitative","scale":{"domain":[-0.05,1.05],"nice":false}},"y2":{"datum":-0.019}}}],"resolve":{"axis":{"x":"independent"}}},
{"transform":[{"filter":{"field":"p","equal":"freq_cons_dum_32to3wk"}}],"layer":[{"mark":"line","encoding":{"x":{"field":"t","type":"quantitative","scale":{"domain":[-7.5,157.5],"nice":false},"axis":{"values":[0,50,100,150],"title":"time"}},"y":{"field":"s","type":"quantitative","scale":{"domain":[-0.05,1.05],"nice":false},"axis":{"values":[0,0.125,0.25,0.375,0.5,0.625,0.75,0.875,1],"labelExpr":"datum.value*4%1==0?format(datum.value,'.2f'):''","title":"survival function value"}},"color":{"field":"v","type":"quantitative","title":"freq_cons_dum_32to3wk value","scale":{"domainMid":0.5,"range":["#8bdcbe","#46bac2","#371ea3"],"interpolate":"lab"},"legend":{"values":[0,0.25,0.5,0.75,1],"format":".2f","encode":{"labels":{"update":{"align":{"value":"center"}}}}}},"detail":{"field":"v","type":"nominal"}}},{"data":{"name":"rug"},"mark":"rect","encoding":{"x":{"field":"a","type":"quantitative","scale":{"domain":[-7.5,157.5],"nice":false},"axis":{"orient":"top","title":"freq cons dum 32to3wk","titleX":0,"titleY":2}},"x2":{"field":"b"},"y":{"datum":-0.05,"type":"quantitative","scale":{"domain":[-0.05,1.05],"nice":false}},"y2":{"datum":-0.019}}}],"resolve":{"axis":{"x":"independent"}}},
{"transform":[{"filter":{"field":"p","equal":"freq_cons_dum_44to6wk"}}],"layer":[{"mark":"line","encoding":{"x":{"field":"t","type":"quantitative","scale":{"domain":[-7.5,157.5],"nice":false},"axis":{"values":[0,50,100,150],"title":"time"}},"y":{"field":"s","type":"quantitative","scale":{"domain":[-0.05,1.05],"nice":false},"axis":{"values":[0,0.125,0.25,0.375,0.5,0.625,0.75,0.875,1],"labelExpr":"datum.value*4%1==0?format(datum.value,'.2f'):''","title":"survival function value"}},"color":{"field":"v","type":"quantitative","title":"freq_cons_dum_44to6wk value","scale":{"domainMid":0.5,"range":["#8bdcbe","#46bac2","#371ea3"],"interpolate":"lab"},"legend":{"values":[0,0.25,0.5,0.75,1],"format":".2f","encode":{"labels":{"update":{"align":{"value":"center"}}}}}},"detail":{"field":"v","type":"nominal"}}},{"data":{"name":"rug"},"mark":"rect","encoding":{"x":{"field":"a","type":"quantitative","scale":{"domain":[-7.5,157.5],"nice":false},"axis":{"orient":"top","title":"freq cons dum 44to6wk","titleX":0,"titleY":2}},"x2":{"field":"b"},"y":{"datum":-0.05,"type":"quantitative","scale":{"domain":[-0.05,1.05],"nice":false}},"y2":{"datum":-0.019}}}],"resolve":{"axis":{"x":"independent"}}},
{"transform":[{"filter":{"field":"p","equal":"freq_cons_dum_5day"}}],"layer":[{"mark":"line","encoding":{"x":{"field":"t","type":"quantitative","scale":{"domain":[-7.5,157.5],"nice":false},"axis":{"values":[0,50,100,150],"title":"time"}},"y":{"field":"s","type":"quantitative","scale":{"domain":[-0.05,1.05],"nice":false},"axis":{"values":[0,0.125,0.25,0.375,0.5,0.625,0.75,0.875,1],"labelExpr":"datum.value*4%1==0?format(datum.value,'.2f'):''","title":"survival function value"}},"color":{"field":"v","type":"quantitative","title":"freq_cons_dum_5day value","scale":{"domainMid":0.5,"range":["#8bdcbe","#46bac2","#371ea3"],"interpolate":"lab"},"legend":{"values":[0,0.25,0.5,0.75,1],"format":".2f","encode":{"labels":{"update":{"align":{"value":"center"}}}}}},"detail":{"field":"v","type":"nominal"}}},{"data":{"name":"rug"},"mark":"rect","encoding":{"x":{"field":"a","type":"quantitative","scale":{"domain":[-7.5,157.5],"nice":false},"axis":{"orient":"top","title":"freq cons dum 5day","titleX":0,"titleY":2}},"x2":{"field":"b"},"y":{"datum":-0.05,"type":"quantitative","scale":{"domain":[-0.05,1.05],"nice":false}},"y2":{"datum":-0.019}}}],"resolve":{"axis":{"x":"independent"}}},
{"transform":[{"filter":{"field":"p","equal":"lag_comp_bpsc_y2_moderate"}}],"layer":[{"mark":"line","encoding":{"x":{"field":"t","type":"quantitative","scale":{"domain":[-7.5,157.5],"nice":false},"axis":{"values":[0,50,100,150],"title":"time"}},"y":{"field":"s","type":"quantitative","scale":{"domain":[-0.05,1.05],"nice":false},"axis":{"values":[0,0.125,0.25,0.375,0.5,0.625,0.75,0.875,1],"labelExpr":"datum.value*4%1==0?format(datum.value,'.2f'):''","title":"survival function value"}},"color":{"field":"v","type":"quantitative","title":"lag_comp_bpsc_y2_moderate value","scale":{"domainMid":0.5,"range":["#8bdcbe","#46bac2","#371ea3"],"interpolate":"lab"},"legend":{"values":[0,0.25,0.5,0.75,1],"format":".2f","encode":{"labels":{"update":{"align":{"value":"center"}}}}}},"detail":{"field":"v","type":"nominal"}}},{"data":{"name":"rug"},"mark":"rect","encoding":{"x":{"field":"a","type":"quantitative","scale":{"domain":[-7.5,157.5],"nice":false},"axis":{"orient":"top","title":"lag comp bpsc y2 moderate","titleX":0,"titleY":2}},"x2":{"field":"b"},"y":{"datum":-0.05,"type":"quantitative","scale":{"domain":[-0.05,1.05],"nice":false}},"y2":{"datum":-0.019}}}],"resolve":{"axis":{"x":"independent"}}},
{"transform":[{"filter":{"field":"p","equal":"lag_comp_bpsc_y3_severe"}}],"layer":[{"mark":"line","encoding":{"x":{"field":"t","type":"quantitative","scale":{"domain":[-7.5,157.5],"nice":false},"axis":{"values":[0,50,100,150],"title":"time"}},"y":{"field":"s","type":"quantitative","scale":{"domain":[-0.05,1.05],"nice":false},"axis":{"values":[0,0.125,0.25,0.375,0.5,0.625,0.75,0.875,1],"labelExpr":"datum.value*4%1==0?format(datum.value,'.2f'):''","title":"survival function value"}},"color":{"field":"v","type":"quantitative","title":"lag_comp_bpsc_y3_severe value","scale":{"domainMid":0.5,"range":["#8bdcbe","#46bac2","#371ea3"],"interpolate":"lab"},"legend":{"values":[0,0.25,0.5,0.75,1],"format":".2f","encode":{"labels":{"update":{"align":{"value":"center"}}}}}},"detail":{"field":"v","type":"nominal"}}},{"data":{"name":"rug"},"mark":"rect","encoding":{"x":{"field":"a","type":"quantitative","scale":{"domain":[-7.5,157.5],"nice":false},"axis":{"orient":"top","title":"lag comp bpsc y3 severe","titleX":0,"titleY":2}},"x2":{"field":"b"},"y":{"datum":-0.05,"type":"quantitative","scale":{"domain":[-0.05,1.05],"nice":false}},"y2":{"datum":-0.019}}}],"resolve":{"axis":{"x":"independent"}}},
{"transform":[{"filter":{"field":"p","equal":"lag_policonsumo2"}}],"layer":[{"mark":"line","encoding":{"x":{"field":"t","type":"quantitative","scale":{"domain":[-7.5,157.5],"nice":false},"axis":{"values":[0,50,100,150],"title":"time"}},"y":{"field":"s","type":"quantitative","scale":{"domain":[-0.05,1.05],"nice":false},"axis":{"values":[0,0.125,0.25,0.375,0.5,0.625,0.75,0.875,1],"labelExpr":"datum.value*4%1==0?format(datum.value,'.2f'):''","title":"survival function value"}},"color":{"field":"v","type":"quantitative","title":"lag_policonsumo2 value","scale":{"domainMid":0.5,"range":["#8bdcbe","#46bac2","#371ea3"],"interpolate":"lab"},"legend":{"values":[0,0.25,0.5,0.75,1],"format":".2f","encode":{"labels":{"update":{"align":{"value":"center"}}}}}},"detail":{"field":"v","type":"nominal"}}},{"data":{"name":"rug"},"mark":"rect","encoding":{"x":{"field":"a","type":"quantitative","scale":{"domain":[-7.5,157.5],"nice":false},"axis":{"orient":"top","title":"lag policonsumo2","titleX":0,"titleY":2}},"x2":{"field":"b"},"y":{"datum":-0.05,"type":"quantitative","scale":{"domain":[-0.05,1.05],"nice":false}},"y2":{"datum":-0.019}}}],"resolve":{"axis":{"x":"independent"}}},
{"transform":[{"filter":{"field":"p","equal":"lag_tr_outcome"}}],"layer":[{"mark":"line","encoding":{"x":{"field":"t","type":"quantitative","scale":{"domain":[-7.5,157.5],"nice":false},"axis":{"values":[0,50,100,150],"title":"time"}},"y":{"field":"s","type":"quantitative","scale":{"domain":[-0.05,1.05],"nice":false},"axis":{"values":[0,0.125,0.25,0.375,0.5,0.625,0.75,0.875,1],"labelExpr":"datum.value*4%1==0?format(datum.value,'.2f'):''","title":"survival function value"}},"color":{"field":"v","type":"quantitative","title":"lag_tr_outcome value","scale":{"domainMid":0.5,"range":["#8bdcbe","#46bac2","#371ea3"],"interpolate":"lab"},"legend":{"values":[0,0.25,0.5,0.75,1],"format":".2f","encode":{"labels":{"update":{"align":{"value":"center"}}}}}},"detail":{"field":"v","type":"nominal"}}},{"data":{"name":"rug"},"mark":"rect","encoding":{"x":{"field":"a","type":"quantitative","scale":{"domain":[-7.5,157.5],"nice":false},"axis":{"orient":"top","title":"lag tr outcome","titleX":0,"titleY":2}},"x2":{"field":"b"},"y":{"datum":-0.05,"type":"quantitative","scale":{"domain":[-0.05,1.05],"nice":false}},"y2":{"datum":-0.019}}}],"resolve":{"axis":{"x":"independent"}}},
{"transform":[{"filter":{"field":"p","equal":"macro_dum_north"}}],"layer":[{"mark":"line","encoding":{"x":{"field":"t","type":"quantitative","scale":{"domain":[-7.5,157.5],"nice":false},"axis":{"values":[0,50,100,150],"title":"time"}},"y":{"field":"s","type":"quantitative","scale":{"domain":[-0.05,1.05],"nice":false},"axis":{"values":[0,0.125,0.25,0.375,0.5,0.625,0.75,0.875,1],"labelExpr":"datum.value*4%1==0?format(datum.value,'.2f'):''","title":"survival function value"}},"color":{"field":"v","type":"quantitative","title":"macro_dum_north value","scale":{"domainMid":0.5,"range":["#8bdcbe","#46bac2","#371ea3"],"interpolate":"lab"},"legend":{"values":[0,0.25,0.5,0.75,1],"format":".2f","encode":{"labels":{"update":{"align":{"value":"center"}}}}}},"detail":{"field":"v","type":"nominal"}}},{"data":{"name":"rug"},"mark":"rect","encoding":{"x":{"field":"a","type":"quantitative","scale":{"domain":[-7.5,157.5],"nice":false},"axis":{"orient":"top","title":"macro dum north","titleX":0,"titleY":2}},"x2":{"field":"b"},"y":{"datum":-0.05,"type":"quantitative","scale":{"domain":[-0.05,1.05],"nice":false}},"y2":{"datum":-0.019}}}],"resolve":{"axis":{"x":"independent"}}},
{"transform":[{"filter":{"field":"p","equal":"macro_dum_south"}}],"layer":[{"mark":"line","encoding":{"x":{"field":"t","type":"quantitative","scale":{"domain":[-7.5,157.5],"nice":false},"axis":{"values":[0,50,100,150],"title":"time"}},"y":{"field":"s","type":"quantitative","scale":{"domain":[-0.05,1.05],"nice":false},"axis":{"values":[0,0.125,0.25,0.375,0.5,0.625,0.75,0.875,1],"labelExpr":"datum.value*4%1==0?format(datum.value,'.2f'):''","title":"survival function value"}},"color":{"field":"v","type":"quantitative","title":"macro_dum_south value","scale":{"domainMid":0.5,"range":["#8bdcbe","#46bac2","#371ea3"],"interpolate":"lab"},"legend":{"values":[0,0.25,0.5,0.75,1],"format":".2f","encode":{"labels":{"update":{"align":{"value":"center"}}}}}},"detail":{"field":"v","type":"nominal"}}},{"data":{"name":"rug"},"mark":"rect","encoding":{"x":{"field":"a","type":"quantitative","scale":{"domain":[-7.5,157.5],"nice":false},"axis":{"orient":"top","title":"macro dum south","titleX":0,"titleY":2}},"x2":{"field":"b"},"y":{"datum":-0.05,"type":"quantitative","scale":{"domain":[-0.05,1.05],"nice":false}},"y2":{"datum":-0.019}}}],"resolve":{"axis":{"x":"independent"}}},
{"transform":[{"filter":{"field":"p","equal":"psycom_dum_study"}}],"layer":[{"mark":"line","encoding":{"x":{"field":"t","type":"quantitative","scale":{"domain":[-7.5,157.5],"nice":false},"axis":{"values":[0,50,100,150],"title":"time"}},"y":{"field":"s","type":"quantitative","scale":{"domain":[-0.05,1.05],"nice":false},"axis":{"values":[0,0.125,0.25,0.375,0.5,0.625,0.75,0.875,1],"labelExpr":"datum.value*4%1==0?format(datum.value,'.2f'):''","title":"survival function value"}},"color":{"field":"v","type":"quantitative","title":"psycom_dum_study value","scale":{"domainMid":0.5,"range":["#8bdcbe","#46bac2","#371ea3"],"interpolate":"lab"},"legend":{"values":[0,0.25,0.5,0.75,1],"format":".2f","encode":{"labels":{"update":{"align":{"value":"center"}}}}}},"detail":{"field":"v","type":"nominal"}}},{"data":{"name":"rug"},"mark":"rect","encoding":{"x":{"field":"a","type":"quantitative","scale":{"domain":[-7.5,157.5],"nice":false},"axis":{"orient":"top","title":"psycom dum study","titleX":0,"titleY":2}},"x2":{"field":"b"},"y":{"datum":-0.05,"type":"quantitative","scale":{"domain":[-0.05,1.05],"nice":false}},"y2":{"datum":-0.019}}}],"resolve":{"axis":{"x":"independent"}}},
{"transform":[{"filter":{"field":"p","equal":"psycom_dum_with"}}],"layer":[{"mark":"line","encoding":{"x":{"field":"t","type":"quantitative","scale":{"domain":[-7.5,157.5],"nice":false},"axis":{"values":[0,50,100,150],"title":"time"}},"y":{"field":"s","type":"quantitative","scale":{"domain":[-0.05,1.05],"nice":false},"axis":{"values":[0,0.125,0.25,0.375,0.5,0.625,0.75,0.875,1],"labelExpr":"datum.value*4%1==0?format(datum.value,'.2f'):''","title":"survival function value"}},"color":{"field":"v","type":"quantitative","title":"psycom_dum_with value","scale":{"domainMid":0.5,"range":["#8bdcbe","#46bac2","#371ea3"],"interpolate":"lab"},"legend":{"values":[0,0.25,0.5,0.75,1],"format":".2f","encode":{"labels":{"update":{"align":{"value":"center"}}}}}},"detail":{"field":"v","type":"nominal"}}},{"data":{"name":"rug"},"mark":"rect","encoding":{"x":{"field":"a","type":"quantitative","scale":{"domain":[-7.5,157.5],"nice":false},"axis":{"orient":"top","title":"psycom dum with","titleX":0,"titleY":2}},"x2":{"field":"b"},"y":{"datum":-0.05,"type":"quantitative","scale":{"domain":[-0.05,1.05],"nice":false}},"y2":{"datum":-0.019}}}],"resolve":{"axis":{"x":"independent"}}},
{"transform":[{"filter":{"field":"p","equal":"rurality_mix"}}],"layer":[{"mark":"line","encoding":{"x":{"field":"t","type":"quantitative","scale":{"domain":[-7.5,157.5],"nice":false},"axis":{"values":[0,50,100,150],"title":"time"}},"y":{"field":"s","type":"quantitative","scale":{"domain":[-0.05,1.05],"nice":false},"axis":{"values":[0,0.125,0.25,0.375,0.5,0.625,0.75,0.875,1],"labelExpr":"datum.value*4%1==0?format(datum.value,'.2f'):''","title":"survival function value"}},"color":{"field":"v","type":"quantitative","title":"rurality_mix value","scale":{"domainMid":0.5,"range":["#8bdcbe","#46bac2","#371ea3"],"interpolate":"lab"},"legend":{"values":[0,0.25,0.5,0.75,1],"format":".2f","encode":{"labels":{"update":{"align":{"value":"center"}}}}}},"detail":{"field":"v","type":"nominal"}}},{"data":{"name":"rug"},"mark":"rect","encoding":{"x":{"field":"a","type":"quantitative","scale":{"domain":[-7.5,157.5],"nice":false},"axis":{"orient":"top","title":"rurality mix","titleX":0,"titleY":2}},"x2":{"field":"b"},"y":{"datum":-0.05,"type":"quantitative","scale":{"domain":[-0.05,1.05],"nice":false}},"y2":{"datum":-0.019}}}],"resolve":{"axis":{"x":"independent"}}},
{"transform":[{"filter":{"field":"p","equal":"rurality_rural"}}],"layer":[{"mark":"line","encoding":{"x":{"field":"t","type":"quantitative","scale":{"domain":[-7.5,157.5],"nice":false},"axis":{"values":[0,50,100,150],"title":"time"}},"y":{"field":"s","type":"quantitative","scale":{"domain":[-0.05,1.05],"nice":false},"axis":{"values":[0,0.125,0.25,0.375,0.5,0.625,0.75,0.875,1],"labelExpr":"datum.value*4%1==0?format(datum.value,'.2f'):''","title":"survival function value"}},"color":{"field":"v","type":"quantitative","title":"rurality_rural value","scale":{"domainMid":0.5,"range":["#8bdcbe","#46bac2","#371ea3"],"interpolate":"lab"},"legend":{"values":[0,0.25,0.5,0.75,1],"format":".2f","encode":{"labels":{"update":{"align":{"value":"center"}}}}}},"detail":{"field":"v","type":"nominal"}}},{"data":{"name":"rug"},"mark":"rect","encoding":{"x":{"field":"a","type":"quantitative","scale":{"domain":[-7.5,157.5],"nice":false},"axis":{"orient":"top","title":"rurality rural","titleX":0,"titleY":2}},"x2":{"field":"b"},"y":{"datum":-0.05,"type":"quantitative","scale":{"domain":[-0.05,1.05],"nice":false}},"y2":{"datum":-0.019}}}],"resolve":{"axis":{"x":"independent"}}},
{"transform":[{"filter":{"field":"p","equal":"susinidum_coc"}}],"layer":[{"mark":"line","encoding":{"x":{"field":"t","type":"quantitative","scale":{"domain":[-7.5,157.5],"nice":false},"axis":{"values":[0,50,100,150],"title":"time"}},"y":{"field":"s","type":"quantitative","scale":{"domain":[-0.05,1.05],"nice":false},"axis":{"values":[0,0.125,0.25,0.375,0.5,0.625,0.75,0.875,1],"labelExpr":"datum.value*4%1==0?format(datum.value,'.2f'):''","title":"survival function value"}},"color":{"field":"v","type":"quantitative","title":"susinidum_coc value","scale":{"domainMid":0.5,"range":["#8bdcbe","#46bac2","#371ea3"],"interpolate":"lab"},"legend":{"values":[0,0.25,0.5,0.75,1],"format":".2f","encode":{"labels":{"update":{"align":{"value":"center"}}}}}},"detail":{"field":"v","type":"nominal"}}},{"data":{"name":"rug"},"mark":"rect","encoding":{"x":{"field":"a","type":"quantitative","scale":{"domain":[-7.5,157.5],"nice":false},"axis":{"orient":"top","title":"susinidum coc","titleX":0,"titleY":2}},"x2":{"field":"b"},"y":{"datum":-0.05,"type":"quantitative","scale":{"domain":[-0.05,1.05],"nice":false}},"y2":{"datum":-0.019}}}],"resolve":{"axis":{"x":"independent"}}},
{"transform":[{"filter":{"field":"p","equal":"susinidum_mar"}}],"layer":[{"mark":"line","encoding":{"x":{"field":"t","type":"quantitative","scale":{"domain":[-7.5,157.5],"nice":false},"axis":{"values":[0,50,100,150],"title":"time"}},"y":{"field":"s","type":"quantitative","scale":{"domain":[-0.05,1.05],"nice":false},"axis":{"values":[0,0.125,0.25,0.375,0.5,0.625,0.75,0.875,1],"labelExpr":"datum.value*4%1==0?format(datum.value,'.2f'):''","title":"survival function value"}},"color":{"field":"v","type":"quantitative","title":"susinidum_mar value","scale":{"domainMid":0.5,"range":["#8bdcbe","#46bac2","#371ea3"],"interpolate":"lab"},"legend":{"values":[0,0.25,0.5,0.75,1],"format":".2f","encode":{"labels":{"update":{"align":{"value":"center"}}}}}},"detail":{"field":"v","type":"nominal"}}},{"data":{"name":"rug"},"mark":"rect","encoding":{"x":{"field":"a","type":"quantitative","scale":{"domain":[-7.5,157.5],"nice":false},"axis":{"orient":"top","title":"susinidum mar","titleX":0,"titleY":2}},"x2":{"field":"b"},"y":{"datum":-0.05,"type":"quantitative","scale":{"domain":[-0.05,1.05],"nice":false}},"y2":{"datum":-0.019}}}],"resolve":{"axis":{"x":"independent"}}},
{"transform":[{"filter":{"field":"p","equal":"susinidum_oh"}}],"layer":[{"mark":"line","encoding":{"x":{"field":"t","type":"quantitative","scale":{"domain":[-7.5,157.5],"nice":false},"axis":{"values":[0,50,100,150],"title":"time"}},"y":{"field":"s","type":"quantitative","scale":{"domain":[-0.05,1.05],"nice":false},"axis":{"values":[0,0.125,0.25,0.375,0.5,0.625,0.75,0.875,1],"labelExpr":"datum.value*4%1==0?format(datum.value,'.2f'):''","title":"survival function value"}},"color":{"field":"v","type":"quantitative","title":"susinidum_oh value","scale":{"domainMid":0.5,"range":["#8bdcbe","#46bac2","#371ea3"],"interpolate":"lab"},"legend":{"values":[0,0.25,0.5,0.75,1],"format":".2f","encode":{"labels":{"update":{"align":{"value":"center"}}}}}},"detail":{"field":"v","type":"nominal"}}},{"data":{"name":"rug"},"mark":"rect","encoding":{"x":{"field":"a","type":"quantitative","scale":{"domain":[-7.5,157.5],"nice":false},"axis":{"orient":"top","title":"susinidum oh","titleX":0,"titleY":2}},"x2":{"field":"b"},"y":{"datum":-0.05,"type":"quantitative","scale":{"domain":[-0.05,1.05],"nice":false}},"y2":{"datum":-0.019}}}],"resolve":{"axis":{"x":"independent"}}},
{"transform":[{"filter":{"field":"p","equal":"susinidum_pbc"}}],"layer":[{"mark":"line","encoding":{"x":{"field":"t","type":"quantitative","scale":{"domain":[-7.5,157.5],"nice":false},"axis":{"values":[0,50,100,150],"title":"time"}},"y":{"field":"s","type":"quantitative","scale":{"domain":[-0.05,1.05],"nice":false},"axis":{"values":[0,0.125,0.25,0.375,0.5,0.625,0.75,0.875,1],"labelExpr":"datum.value*4%1==0?format(datum.value,'.2f'):''","title":"survival function value"}},"color":{"field":"v","type":"quantitative","title":"susinidum_pbc value","scale":{"domainMid":0.5,"range":["#8bdcbe","#46bac2","#371ea3"],"interpolate":"lab"},"legend":{"values":[0,0.25,0.5,0.75,1],"format":".2f","encode":{"labels":{"update":{"align":{"value":"center"}}}}}},"detail":{"field":"v","type":"nominal"}}},{"data":{"name":"rug"},"mark":"rect","encoding":{"x":{"field":"a","type":"quantitative","scale":{"domain":[-7.5,157.5],"nice":false},"axis":{"orient":"top","title":"susinidum pbc","titleX":0,"titleY":2}},"x2":{"field":"b"},"y":{"datum":-0.05,"type":"quantitative","scale":{"domain":[-0.05,1.05],"nice":false}},"y2":{"datum":-0.019}}}],"resolve":{"axis":{"x":"independent"}}},
{"transform":[{"filter":{"field":"p","equal":"susprindum_coc"}}],"layer":[{"mark":"line","encoding":{"x":{"field":"t","type":"quantitative","scale":{"domain":[-7.5,157.5],"nice":false},"axis":{"values":[0,50,100,150],"title":"time"}},"y":{"field":"s","type":"quantitative","scale":{"domain":[-0.05,1.05],"nice":false},"axis":{"values":[0,0.125,0.25,0.375,0.5,0.625,0.75,0.875,1],"labelExpr":"datum.value*4%1==0?format(datum.value,'.2f'):''","title":"survival function value"}},"color":{"field":"v","type":"quantitative","title":"susprindum_coc value","scale":{"domainMid":0.5,"range":["#8bdcbe","#46bac2","#371ea3"],"interpolate":"lab"},"legend":{"values":[0,0.25,0.5,0.75,1],"format":".2f","encode":{"labels":{"update":{"align":{"value":"center"}}}}}},"detail":{"field":"v","type":"nominal"}}},{"data":{"name":"rug"},"mark":"rect","encoding":{"x":{"field":"a","type":"quantitative","scale":{"domain":[-7.5,157.5],"nice":false},"axis":{"orient":"top","title":"susprindum coc","titleX":0,"titleY":2}},"x2":{"field":"b"},"y":{"datum":-0.05,"type":"quantitative","scale":{"domain":[-0.05,1.05],"nice":false}},"y2":{"datum":-0.019}}}],"resolve":{"axis":{"x":"independent"}}},
{"transform":[{"filter":{"field":"p","equal":"susprindum_mar"}}],"layer":[{"mark":"line","encoding":{"x":{"field":"t","type":"quantitative","scale":{"domain":[-7.5,157.5],"nice":false},"axis":{"values":[0,50,100,150],"title":"time"}},"y":{"field":"s","type":"quantitative","scale":{"domain":[-0.05,1.05],"nice":false},"axis":{"values":[0,0.125,0.25,0.375,0.5,0.625,0.75,0.875,1],"labelExpr":"datum.value*4%1==0?format(datum.value,'.2f'):''","title":"survival function value"}},"color":{"field":"v","type":"quantitative","title":"susprindum_mar value","scale":{"domainMid":0.5,"range":["#8bdcbe","#46bac2","#371ea3"],"interpolate":"lab"},"legend":{"values":[0,0.25,0.5,0.75,1],"format":".2f","encode":{"labels":{"update":{"align":{"value":"center"}}}}}},"detail":{"field":"v","type":"nominal"}}},{"data":{"name":"rug"},"mark":"rect","encoding":{"x":{"field":"a","type":"quantitative","scale":{"domain":[-7.5,157.5],"nice":false},"axis":{"orient":"top","title":"susprindum mar","titleX":0,"titleY":2}},"x2":{"field":"b"},"y":{"datum":-0.05,"type":"quantitative","scale":{"domain":[-0.05,1.05],"nice":false}},"y2":{"datum":-0.019}}}],"resolve":{"axis":{"x":"independent"}}},
{"transform":[{"filter":{"field":"p","equal":"susprindum_oh"}}],"layer":[{"mark":"line","encoding":{"x":{"field":"t","type":"quantitative","scale":{"domain":[-7.5,157.5],"nice":false},"axis":{"values":[0,50,100,150],"title":"time"}},"y":{"field":"s","type":"quantitative","scale":{"domain":[-0.05,1.05],"nice":false},"axis":{"values":[0,0.125,0.25,0.375,0.5,0.625,0.75,0.875,1],"labelExpr":"datum.value*4%1==0?format(datum.value,'.2f'):''","title":"survival function value"}},"color":{"field":"v","type":"quantitative","title":"susprindum_oh value","scale":{"domainMid":0.5,"range":["#8bdcbe","#46bac2","#371ea3"],"interpolate":"lab"},"legend":{"values":[0,0.25,0.5,0.75,1],"format":".2f","encode":{"labels":{"update":{"align":{"value":"center"}}}}}},"detail":{"field":"v","type":"nominal"}}},{"data":{"name":"rug"},"mark":"rect","encoding":{"x":{"field":"a","type":"quantitative","scale":{"domain":[-7.5,157.5],"nice":false},"axis":{"orient":"top","title":"susprindum oh","titleX":0,"titleY":2}},"x2":{"field":"b"},"y":{"datum":-0.05,"type":"quantitative","scale":{"domain":[-0.05,1.05],"nice":false}},"y2":{"datum":-0.019}}}],"resolve":{"axis":{"x":"independent"}}},
{"transform":[{"filter":{"field":"p","equal":"susprindum_pbc"}}],"layer":[{"mark":"line","encoding":{"x":{"field":"t","type":"quantitative","scale":{"domain":[-7.5,157.5],"nice":false},"axis":{"values":[0,50,100,150],"title":"time"}},"y":{"field":"s","type":"quantitative","scale":{"domain":[-0.05,1.05],"nice":false},"axis":{"values":[0,0.125,0.25,0.375,0.5,0.625,0.75,0.875,1],"labelExpr":"datum.value*4%1==0?format(datum.value,'.2f'):''","title":"survival function value"}},"color":{"field":"v","type":"quantitative","title":"susprindum_pbc value","scale":{"domainMid":0.5,"range":["#8bdcbe","#46bac2","#371ea3"],"interpolate":"lab"},"legend":{"values":[0,0.25,0.5,0.75,1],"format":".2f","encode":{"labels":{"update":{"align":{"value":"center"}}}}}},"detail":{"field":"v","type":"nominal"}}},{"data":{"name":"rug"},"mark":"rect","encoding":{"x":{"field":"a","type":"quantitative","scale":{"domain":[-7.5,157.5],"nice":false},"axis":{"orient":"top","title":"susprindum pbc","titleX":0,"titleY":2}},"x2":{"field":"b"},"y":{"datum":-0.05,"type":"quantitative","scale":{"domain":[-0.05,1.05],"nice":false}},"y2":{"datum":-0.019}}}],"resolve":{"axis":{"x":"independent"}}},
{"transform":[{"filter":{"field":"p","equal":"viv_dum_illegal"}}],"layer":[{"mark":"line","encoding":{"x":{"field":"t","type":"quantitative","scale":{"domain":[-7.5,157.5],"nice":false},"axis":{"values":[0,50,100,150],"title":"time"}},"y":{"field":"s","type":"quantitative","scale":{"domain":[-0.05,1.05],"nice":false},"axis":{"values":[0,0.125,0.25,0.375,0.5,0.625,0.75,0.875,1],"labelExpr":"datum.value*4%1==0?format(datum.value,'.2f'):''","title":"survival function value"}},"color":{"field":"v","type":"quantitative","title":"viv_dum_illegal value","scale":{"domainMid":0.5,"range":["#8bdcbe","#46bac2","#371ea3"],"interpolate":"lab"},"legend":{"values":[0,0.25,0.5,0.75,1],"format":".2f","encode":{"labels":{"update":{"align":{"value":"center"}}}}}},"detail":{"field":"v","type":"nominal"}}},{"data":{"name":"rug"},"mark":"rect","encoding":{"x":{"field":"a","type":"quantitative","scale":{"domain":[-7.5,157.5],"nice":false},"axis":{"orient":"top","title":"viv dum illegal","titleX":0,"titleY":2}},"x2":{"field":"b"},"y":{"datum":-0.05,"type":"quantitative","scale":{"domain":[-0.05,1.05],"nice":false}},"y2":{"datum":-0.019}}}],"resolve":{"axis":{"x":"independent"}}},
{"transform":[{"filter":{"field":"p","equal":"viv_dum_own"}}],"layer":[{"mark":"line","encoding":{"x":{"field":"t","type":"quantitative","scale":{"domain":[-7.5,157.5],"nice":false},"axis":{"values":[0,50,100,150],"title":"time"}},"y":{"field":"s","type":"quantitative","scale":{"domain":[-0.05,1.05],"nice":false},"axis":{"values":[0,0.125,0.25,0.375,0.5,0.625,0.75,0.875,1],"labelExpr":"datum.value*4%1==0?format(datum.value,'.2f'):''","title":"survival function value"}},"color":{"field":"v","type":"quantitative","title":"viv_dum_own value","scale":{"domainMid":0.5,"range":["#8bdcbe","#46bac2","#371ea3"],"interpolate":"lab"},"legend":{"values":[0,0.25,0.5,0.75,1],"format":".2f","encode":{"labels":{"update":{"align":{"value":"center"}}}}}},"detail":{"field":"v","type":"nominal"}}},{"data":{"name":"rug"},"mark":"rect","encoding":{"x":{"field":"a","type":"quantitative","scale":{"domain":[-7.5,157.5],"nice":false},"axis":{"orient":"top","title":"viv dum own","titleX":0,"titleY":2}},"x2":{"field":"b"},"y":{"datum":-0.05,"type":"quantitative","scale":{"domain":[-0.05,1.05],"nice":false}},"y2":{"datum":-0.019}}}],"resolve":{"axis":{"x":"independent"}}},
{"transform":[{"filter":{"field":"p","equal":"viv_dum_rent"}}],"layer":[{"mark":"line","encoding":{"x":{"field":"t","type":"quantitative","scale":{"domain":[-7.5,157.5],"nice":false},"axis":{"values":[0,50,100,150],"title":"time"}},"y":{"field":"s","type":"quantitative","scale":{"domain":[-0.05,1.05],"nice":false},"axis":{"values":[0,0.125,0.25,0.375,0.5,0.625,0.75,0.875,1],"labelExpr":"datum.value*4%1==0?format(datum.value,'.2f'):''","title":"survival function value"}},"color":{"field":"v","type":"quantitative","title":"viv_dum_rent value","scale":{"domainMid":0.5,"range":["#8bdcbe","#46bac2","#371ea3"],"interpolate":"lab"},"legend":{"values":[0,0.25,0.5,0.75,1],"format":".2f","encode":{"labels":{"update":{"align":{"value":"center"}}}}}},"detail":{"field":"v","type":"nominal"}}},{"data":{"name":"rug"},"mark":"rect","encoding":{"x":{"field":"a","type":"quantitative","scale":{"domain":[-7.5,157.5],"nice":false},"axis":{"orient":"top","title":"viv dum rent","titleX":0,"titleY":2}},"x2":{"field":"b"},"y":{"datum":-0.05,"type":"quantitative","scale":{"domain":[-0.05,1.05],"nice":false}},"y2":{"datum":-0.019}}}],"resolve":{"axis":{"x":"independent"}}},
{"transform":[{"filter":{"field":"p","equal":"viv_dum_temp"}}],"layer":[{"mark":"line","encoding":{"x":{"field":"t","type":"quantitative","scale":{"domain":[-7.5,157.5],"nice":false},"axis":{"values":[0,50,100,150],"title":"time"}},"y":{"field":"s","type":"quantitative","scale":{"domain":[-0.05,1.05],"nice":false},"axis":{"values":[0,0.125,0.25,0.375,0.5,0.625,0.75,0.875,1],"labelExpr":"datum.value*4%1==0?format(datum.value,'.2f'):''","title":"survival function value"}},"color":{"field":"v","type":"quantitative","title":"viv_dum_temp value","scale":{"domainMid":0.5,"range":["#8bdcbe","#46bac2","#371ea3"],"interpolate":"lab"},"legend":{"values":[0,0.25,0.5,0.75,1],"format":".2f","encode":{"labels":{"update":{"align":{"value":"center"}}}}}},"detail":{"field":"v","type":"nominal"}}},{"data":{"name":"rug"},"mark":"rect","encoding":{"x":{"field":"a","type":"quantitative","scale":{"domain":[-7.5,157.5],"nice":false},"axis":{"orient":"top","title":"viv dum temp","titleX":0,"titleY":2}},"x2":{"field":"b"},"y":{"datum":-0.05,"type":"quantitative","scale":{"domain":[-0.05,1.05],"nice":false}},"y2":{"datum":-0.019}}}],"resolve":{"axis":{"x":"independent"}}},
{"transform":[{"filter":{"field":"p","equal":"porc_pobr"}}],"layer":[{"mark":"line","encoding":{"x":{"field":"t","type":"quantitative","scale":{"domain":[-7.5,157.5],"nice":false},"axis":{"values":[0,50,100,150],"title":"time"}},"y":{"field":"s","type":"quantitative","scale":{"domain":[-0.05,1.05],"nice":false},"axis":{"values":[0,0.125,0.25,0.375,0.5,0.625,0.75,0.875,1],"labelExpr":"datum.value*4%1==0?format(datum.value,'.2f'):''","title":"survival function value"}},"color":{"field":"v","type":"quantitative","title":"porc_pobr value","scale":{"domainMid":0.12,"range":["#54c1c1","#46bac2","#371ea3"],"interpolate":"lab"},"legend":{"values":[0.2,0.4,0.6],"format":".1f","encode":{"labels":{"update":{"align":{"value":"center"}}}}}},"detail":{"field":"v","type":"nominal"}}},{"data":{"name":"rug"},"mark":"rect","encoding":{"x":{"field":"a","type":"quantitative","scale":{"domain":[-7.5,157.5],"nice":false},"axis":{"orient":"top","title":"porc pobr","titleX":0,"titleY":2}},"x2":{"field":"b"},"y":{"datum":-0.05,"type":"quantitative","scale":{"domain":[-0.05,1.05],"nice":false}},"y2":{"datum":-0.019}}}],"resolve":{"axis":{"x":"independent"}}},
{"transform":[{"filter":{"field":"p","equal":"edad_al_ing_1"}}],"layer":[{"mark":"line","encoding":{"x":{"field":"t","type":"quantitative","scale":{"domain":[-7.5,157.5],"nice":false},"axis":{"values":[0,50,100,150],"title":"time"}},"y":{"field":"s","type":"quantitative","scale":{"domain":[-0.05,1.05],"nice":false},"axis":{"values":[0,0.125,0.25,0.375,0.5,0.625,0.75,0.875,1],"labelExpr":"datum.value*4%1==0?format(datum.value,'.2f'):''","title":"survival function value"}},"color":{"field":"v","type":"quantitative","title":"edad_al_ing_1 value","scale":{"domainMid":33,"range":["#62c8c0","#46bac2","#371ea3"],"interpolate":"lab"},"legend":{"values":[20,40,60,80],"encode":{"labels":{"update":{"align":{"value":"center"}}}}}},"detail":{"field":"v","type":"nominal"}}},{"data":{"name":"rug"},"mark":"rect","encoding":{"x":{"field":"a","type":"quantitative","scale":{"domain":[-7.5,157.5],"nice":false},"axis":{"orient":"top","title":"edad al ing 1","titleX":0,"titleY":2}},"x2":{"field":"b"},"y":{"datum":-0.05,"type":"quantitative","scale":{"domain":[-0.05,1.05],"nice":false}},"y2":{"datum":-0.019}}}],"resolve":{"axis":{"x":"independent"}}},
{"transform":[{"filter":{"field":"p","equal":"ano_nac_corr"}}],"layer":[{"mark":"line","encoding":{"x":{"field":"t","type":"quantitative","scale":{"domain":[-7.5,157.5],"nice":false},"axis":{"values":[0,50,100,150],"title":"time"}},"y":{"field":"s","type":"quantitative","scale":{"domain":[-0.05,1.05],"nice":false},"axis":{"values":[0,0.125,0.25,0.375,0.5,0.625,0.75,0.875,1],"labelExpr":"datum.value*4%1==0?format(datum.value,'.2f'):''","title":"survival function value"}},"color":{"field":"v","type":"quantitative","title":"ano_nac_corr value","scale":{"domainMid":1975,"range":["#8bdcbe","#46bac2","#3c56ae"],"interpolate":"lab"},"legend":{"values":[1940,1960,1980,2000],"format":"d","encode":{"labels":{"update":{"align":{"value":"center"}}}}}},"detail":{"field":"v","type":"nominal"}}},{"data":{"name":"rug"},"mark":"rect","encoding":{"x":{"field":"a","type":"quantitative","scale":{"domain":[-7.5,157.5],"nice":false},"axis":{"orient":"top","title":"ano nac corr","titleX":0,"titleY":2}},"x2":{"field":"b"},"y":{"datum":-0.05,"type":"quantitative","scale":{"domain":[-0.05,1.05],"nice":false}},"y2":{"datum":-0.019}}}],"resolve":{"axis":{"x":"independent"}}}
],
"config":{
"view":{"stroke":null,"continuousWidth":362,"continuousHeight":348},
"font":"Liberation Sans",
"axis":{"labelColor":"#371ea3","titleColor":"#371ea3","labelFont":"Liberation Sans","titleFont":"Liberation Sans","labelFontSize":12.3,"titleFontSize":14.4,"titleFontWeight":"normal","ticks":false,"domain":false,"grid":false,"gridColor":"#e5e5e5","gridWidth":1.1},
"axisLeft":{"grid":true,"labelPadding":7,"titlePadding":5},
"axisBottom":{"labelPadding":9,"titlePadding":5},
"axisTop":{"labels":false,"titleFontSize":16,"titleAlign":"left","titleBaseline":"alphabetic","titleAnchor":"start"},
"legend":{"orient":"top","direction":"horizontal","titleOrient":"left","titleAnchor":"middle","titleBaseline":"middle","titleFontSize":14.4,"titleFontWeight":"normal","titleColor":"#000000","titleLimit":500,"titlePadding":9,"labelFontSize":11.8,"labelColor":"#000000","labelOffset":4,"labelOverlap":false,"gradientLength":115,"gradientThickness":23,"gradientStrokeWidth":0,"offset":33,"layout":{"top":{"anchor":"middle"}}},
"line":{"strokeWidth":1.1},
"rect":{"color":"#dd0000"}
}
}
